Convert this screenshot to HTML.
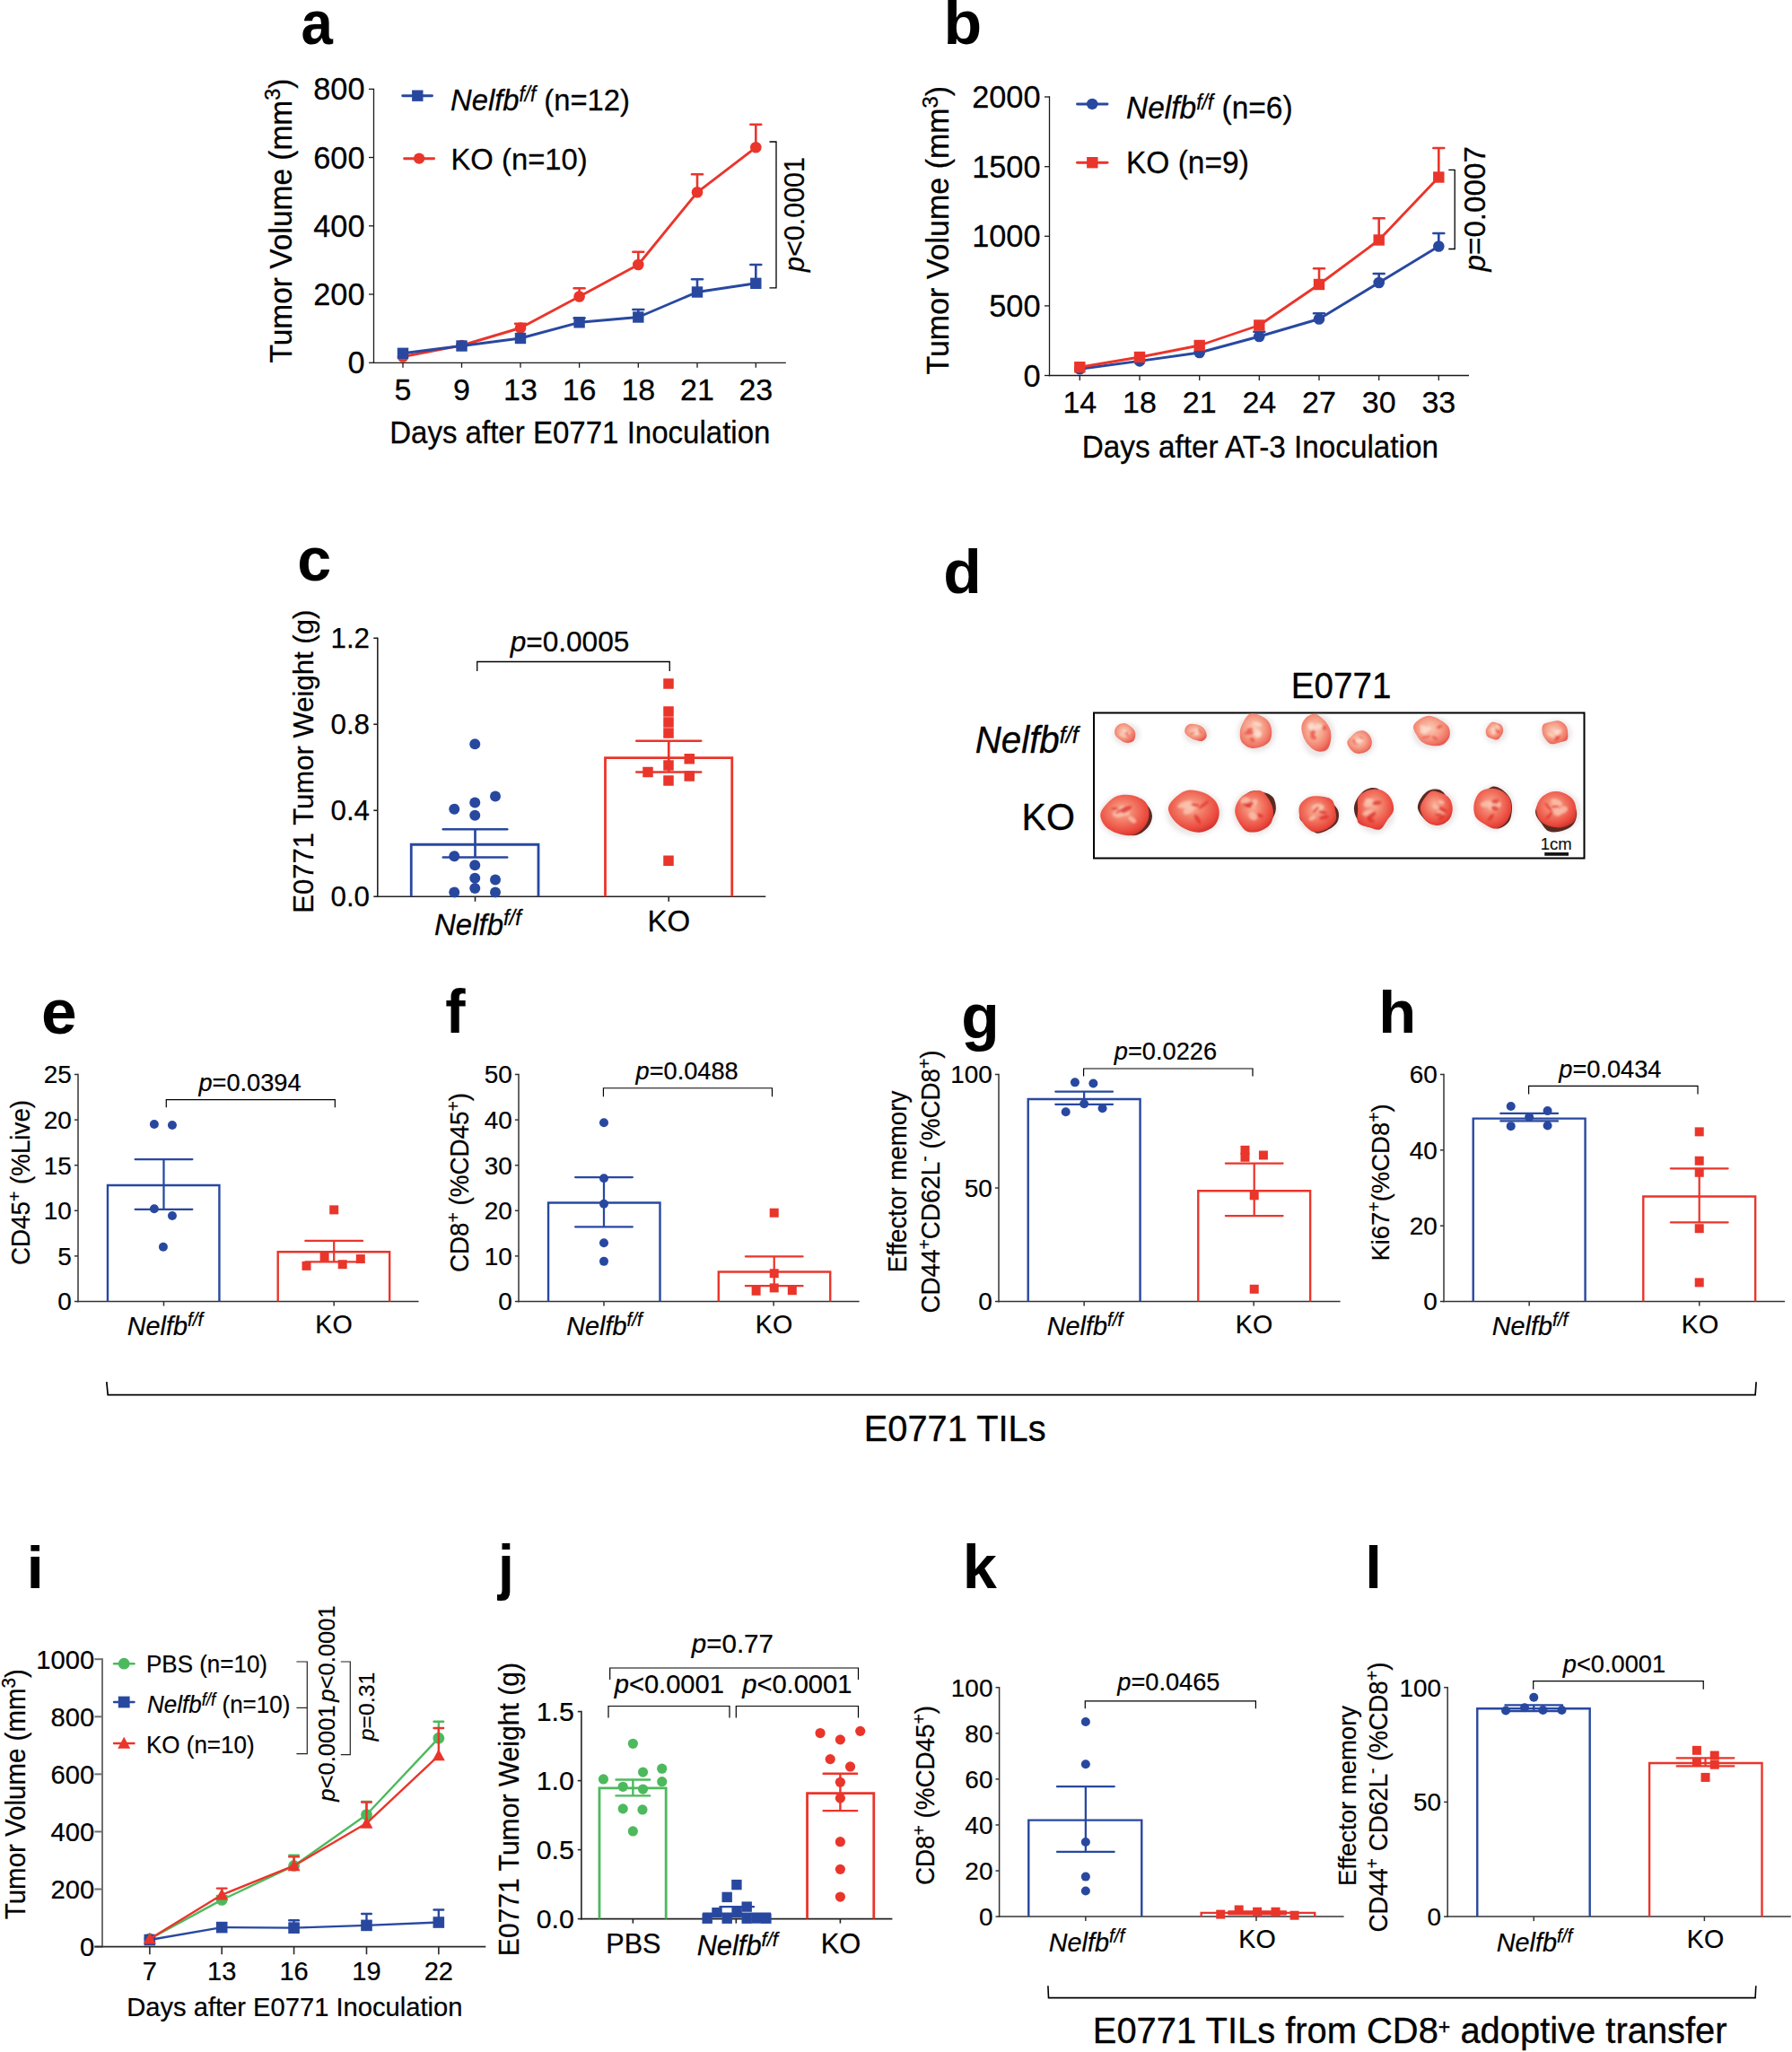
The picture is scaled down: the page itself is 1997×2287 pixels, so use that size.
<!DOCTYPE html>
<html><head><meta charset="utf-8"><title>Figure</title>
<style>html,body{margin:0;padding:0;background:#fff}svg{display:block}text{font-family:'Liberation Sans', sans-serif;white-space:pre}</style>
</head><body>
<svg width="1997" height="2287" viewBox="0 0 1997 2287">
<defs>
<radialGradient id="tg1" cx="45%" cy="42%" r="60%"><stop offset="0" stop-color="#FBCDB9"/><stop offset="0.5" stop-color="#F6A18A"/><stop offset="0.85" stop-color="#F07565"/><stop offset="1" stop-color="#E85A50"/></radialGradient>
<radialGradient id="tg2" cx="45%" cy="40%" r="62%"><stop offset="0" stop-color="#F9B29A"/><stop offset="0.45" stop-color="#F27662"/><stop offset="0.85" stop-color="#EA463B"/><stop offset="1" stop-color="#D0352F"/></radialGradient>
<filter id="blur1" x="-20%" y="-20%" width="140%" height="140%"><feGaussianBlur stdDeviation="1.1"/></filter>
<filter id="blur3" x="-30%" y="-30%" width="160%" height="160%"><feGaussianBlur stdDeviation="2.5"/></filter>
</defs>
<rect x="0" y="0" width="1997" height="2287" fill="#fff"/>
<text transform="matrix(0.6358 0 0 0.6936 335.54 49.22)" font-size="100" fill="#000" font-weight="bold">a</text>
<line x1="416.5" y1="98.65" x2="416.5" y2="404.95" stroke="#1a1a1a" stroke-width="1.3" stroke-linecap="butt"/>
<line x1="411" y1="99.3" x2="416.5" y2="99.3" stroke="#1a1a1a" stroke-width="1.3" stroke-linecap="butt"/>
<text transform="translate(406.5 111.48) scale(1.0000 1)" font-size="34.3" text-anchor="end" fill="#000" stroke="#000" stroke-width="0.27" stroke-linejoin="round"><tspan>800</tspan></text>
<line x1="411" y1="175.5" x2="416.5" y2="175.5" stroke="#1a1a1a" stroke-width="1.3" stroke-linecap="butt"/>
<text transform="translate(406.5 187.68) scale(1.0000 1)" font-size="34.3" text-anchor="end" fill="#000" stroke="#000" stroke-width="0.27" stroke-linejoin="round"><tspan>600</tspan></text>
<line x1="411" y1="251.8" x2="416.5" y2="251.8" stroke="#1a1a1a" stroke-width="1.3" stroke-linecap="butt"/>
<text transform="translate(406.5 263.98) scale(1.0000 1)" font-size="34.3" text-anchor="end" fill="#000" stroke="#000" stroke-width="0.27" stroke-linejoin="round"><tspan>400</tspan></text>
<line x1="411" y1="328" x2="416.5" y2="328" stroke="#1a1a1a" stroke-width="1.3" stroke-linecap="butt"/>
<text transform="translate(406.5 340.18) scale(1.0000 1)" font-size="34.3" text-anchor="end" fill="#000" stroke="#000" stroke-width="0.27" stroke-linejoin="round"><tspan>200</tspan></text>
<line x1="411" y1="404.3" x2="416.5" y2="404.3" stroke="#1a1a1a" stroke-width="1.3" stroke-linecap="butt"/>
<text transform="translate(406.5 416.48) scale(1.0000 1)" font-size="34.3" text-anchor="end" fill="#000" stroke="#000" stroke-width="0.27" stroke-linejoin="round"><tspan>0</tspan></text>
<line x1="415.75" y1="404.3" x2="875.8" y2="404.3" stroke="#1a1a1a" stroke-width="1.3" stroke-linecap="butt"/>
<line x1="449" y1="404.3" x2="449" y2="409.8" stroke="#1a1a1a" stroke-width="1.3" stroke-linecap="butt"/>
<line x1="514.5" y1="404.3" x2="514.5" y2="409.8" stroke="#1a1a1a" stroke-width="1.3" stroke-linecap="butt"/>
<line x1="580" y1="404.3" x2="580" y2="409.8" stroke="#1a1a1a" stroke-width="1.3" stroke-linecap="butt"/>
<line x1="645.6" y1="404.3" x2="645.6" y2="409.8" stroke="#1a1a1a" stroke-width="1.3" stroke-linecap="butt"/>
<line x1="711.3" y1="404.3" x2="711.3" y2="409.8" stroke="#1a1a1a" stroke-width="1.3" stroke-linecap="butt"/>
<line x1="777" y1="404.3" x2="777" y2="409.8" stroke="#1a1a1a" stroke-width="1.3" stroke-linecap="butt"/>
<line x1="842.3" y1="404.3" x2="842.3" y2="409.8" stroke="#1a1a1a" stroke-width="1.3" stroke-linecap="butt"/>
<text transform="translate(449 445.5) scale(1.0000 1)" font-size="34" text-anchor="middle" fill="#000" stroke="#000" stroke-width="0.27" stroke-linejoin="round"><tspan>5</tspan></text>
<text transform="translate(514.5 445.5) scale(1.0000 1)" font-size="34" text-anchor="middle" fill="#000" stroke="#000" stroke-width="0.27" stroke-linejoin="round"><tspan>9</tspan></text>
<text transform="translate(580 445.5) scale(1.0000 1)" font-size="34" text-anchor="middle" fill="#000" stroke="#000" stroke-width="0.27" stroke-linejoin="round"><tspan>13</tspan></text>
<text transform="translate(645.6 445.5) scale(1.0000 1)" font-size="34" text-anchor="middle" fill="#000" stroke="#000" stroke-width="0.27" stroke-linejoin="round"><tspan>16</tspan></text>
<text transform="translate(711.3 445.5) scale(1.0000 1)" font-size="34" text-anchor="middle" fill="#000" stroke="#000" stroke-width="0.27" stroke-linejoin="round"><tspan>18</tspan></text>
<text transform="translate(777 445.5) scale(1.0000 1)" font-size="34" text-anchor="middle" fill="#000" stroke="#000" stroke-width="0.27" stroke-linejoin="round"><tspan>21</tspan></text>
<text transform="translate(842.3 445.5) scale(1.0000 1)" font-size="34" text-anchor="middle" fill="#000" stroke="#000" stroke-width="0.27" stroke-linejoin="round"><tspan>23</tspan></text>
<text transform="translate(646.3 493.8) scale(0.9662 1)" font-size="34.21" text-anchor="middle" fill="#000" stroke="#000" stroke-width="0.27" stroke-linejoin="round"><tspan>Days after E0771 Inoculation</tspan></text>
<text transform="translate(324.5 246) rotate(-90) scale(0.9662 1)" font-size="34.67" text-anchor="middle" fill="#000" stroke="#000" stroke-width="0.28" stroke-linejoin="round"><tspan>Tumor Volume (mm</tspan><tspan font-size="24.27" dy="-12.06">3</tspan><tspan dy="12.06">)</tspan></text>
<line x1="448.7" y1="106.7" x2="481.5" y2="106.7" stroke="#2848A0" stroke-width="2.9" stroke-linecap="round"/>
<rect x="459.1" y="100.5" width="12.4" height="12.4" fill="#2848A0"/>
<text transform="translate(502 122.5) scale(0.9662 1)" font-size="33.95" text-anchor="start" fill="#000" stroke="#000" stroke-width="0.27" stroke-linejoin="round"><tspan font-style="italic">Nelfb</tspan><tspan font-style="italic" font-size="23.08" dy="-9.84">f/f</tspan><tspan dy="9.84"> (n=12)</tspan></text>
<line x1="450.6" y1="176.7" x2="483.6" y2="176.7" stroke="#EA352B" stroke-width="2.9" stroke-linecap="round"/>
<circle cx="467.1" cy="176.6" r="6.2" fill="#EA352B"/>
<text transform="translate(502.5 188.8) scale(0.9662 1)" font-size="33.95" text-anchor="start" fill="#000" stroke="#000" stroke-width="0.27" stroke-linejoin="round"><tspan>KO (n=10)</tspan></text>
<line x1="580" y1="360.8" x2="580" y2="365.5" stroke="#EA352B" stroke-width="2.6" stroke-linecap="butt"/>
<line x1="574.05" y1="360.8" x2="585.95" y2="360.8" stroke="#EA352B" stroke-width="2.6" stroke-linecap="round"/>
<line x1="645.6" y1="321.3" x2="645.6" y2="330.5" stroke="#EA352B" stroke-width="2.6" stroke-linecap="butt"/>
<line x1="639.65" y1="321.3" x2="651.55" y2="321.3" stroke="#EA352B" stroke-width="2.6" stroke-linecap="round"/>
<line x1="711.3" y1="280.7" x2="711.3" y2="295" stroke="#EA352B" stroke-width="2.6" stroke-linecap="butt"/>
<line x1="705.35" y1="280.7" x2="717.25" y2="280.7" stroke="#EA352B" stroke-width="2.6" stroke-linecap="round"/>
<line x1="777" y1="194.3" x2="777" y2="214.3" stroke="#EA352B" stroke-width="2.6" stroke-linecap="butt"/>
<line x1="771.05" y1="194.3" x2="782.95" y2="194.3" stroke="#EA352B" stroke-width="2.6" stroke-linecap="round"/>
<line x1="842.3" y1="138.8" x2="842.3" y2="164.3" stroke="#EA352B" stroke-width="2.6" stroke-linecap="butt"/>
<line x1="836.35" y1="138.8" x2="848.25" y2="138.8" stroke="#EA352B" stroke-width="2.6" stroke-linecap="round"/>
<polyline points="449,397.5 514.5,385 580,365.5 645.6,330.5 711.3,295 777,214.3 842.3,164.3" fill="none" stroke="#EA352B" stroke-width="2.9" stroke-linejoin="round" stroke-linecap="butt"/>
<circle cx="449" cy="397.5" r="6.3" fill="#EA352B"/>
<circle cx="514.5" cy="385" r="6.3" fill="#EA352B"/>
<circle cx="580" cy="365.5" r="6.3" fill="#EA352B"/>
<circle cx="645.6" cy="330.5" r="6.3" fill="#EA352B"/>
<circle cx="711.3" cy="295" r="6.3" fill="#EA352B"/>
<circle cx="777" cy="214.3" r="6.3" fill="#EA352B"/>
<circle cx="842.3" cy="164.3" r="6.3" fill="#EA352B"/>
<line x1="645.6" y1="354.5" x2="645.6" y2="359.3" stroke="#2848A0" stroke-width="2.6" stroke-linecap="butt"/>
<line x1="639.65" y1="354.5" x2="651.55" y2="354.5" stroke="#2848A0" stroke-width="2.6" stroke-linecap="round"/>
<line x1="711.3" y1="345" x2="711.3" y2="353.5" stroke="#2848A0" stroke-width="2.6" stroke-linecap="butt"/>
<line x1="705.35" y1="345" x2="717.25" y2="345" stroke="#2848A0" stroke-width="2.6" stroke-linecap="round"/>
<line x1="777" y1="311.3" x2="777" y2="325.5" stroke="#2848A0" stroke-width="2.6" stroke-linecap="butt"/>
<line x1="771.05" y1="311.3" x2="782.95" y2="311.3" stroke="#2848A0" stroke-width="2.6" stroke-linecap="round"/>
<line x1="842.3" y1="295" x2="842.3" y2="315.8" stroke="#2848A0" stroke-width="2.6" stroke-linecap="butt"/>
<line x1="836.35" y1="295" x2="848.25" y2="295" stroke="#2848A0" stroke-width="2.6" stroke-linecap="round"/>
<polyline points="449,393.8 514.5,385.5 580,377 645.6,359.3 711.3,353.5 777,325.5 842.3,315.8" fill="none" stroke="#2848A0" stroke-width="2.9" stroke-linejoin="round" stroke-linecap="butt"/>
<rect x="442.8" y="387.6" width="12.4" height="12.4" fill="#2848A0"/>
<rect x="508.3" y="379.3" width="12.4" height="12.4" fill="#2848A0"/>
<rect x="573.8" y="370.8" width="12.4" height="12.4" fill="#2848A0"/>
<rect x="639.4" y="353.1" width="12.4" height="12.4" fill="#2848A0"/>
<rect x="705.1" y="347.3" width="12.4" height="12.4" fill="#2848A0"/>
<rect x="770.8" y="319.3" width="12.4" height="12.4" fill="#2848A0"/>
<rect x="836.1" y="309.6" width="12.4" height="12.4" fill="#2848A0"/>
<polyline points="857.5,158 865,158 865,320.8 857.5,320.8" fill="none" stroke="#000" stroke-width="1.3" stroke-linejoin="miter" stroke-linecap="butt"/>
<text transform="translate(896.3 239) rotate(-90) scale(1.0000 1)" font-size="30.5" text-anchor="middle" fill="#000" stroke="#000" stroke-width="0.24" stroke-linejoin="round"><tspan font-style="italic">p</tspan><tspan>&lt;0.0001</tspan></text>
<text transform="matrix(0.6985 0 0 0.6795 1051.5 49.34)" font-size="100" fill="#000" font-weight="bold">b</text>
<line x1="1169.5" y1="107.35" x2="1169.5" y2="419.15" stroke="#1a1a1a" stroke-width="1.3" stroke-linecap="butt"/>
<line x1="1164" y1="108" x2="1169.5" y2="108" stroke="#1a1a1a" stroke-width="1.3" stroke-linecap="butt"/>
<text transform="translate(1159.5 120.18) scale(1.0000 1)" font-size="34.3" text-anchor="end" fill="#000" stroke="#000" stroke-width="0.27" stroke-linejoin="round"><tspan>2000</tspan></text>
<line x1="1164" y1="185.7" x2="1169.5" y2="185.7" stroke="#1a1a1a" stroke-width="1.3" stroke-linecap="butt"/>
<text transform="translate(1159.5 197.88) scale(1.0000 1)" font-size="34.3" text-anchor="end" fill="#000" stroke="#000" stroke-width="0.27" stroke-linejoin="round"><tspan>1500</tspan></text>
<line x1="1164" y1="263.3" x2="1169.5" y2="263.3" stroke="#1a1a1a" stroke-width="1.3" stroke-linecap="butt"/>
<text transform="translate(1159.5 275.48) scale(1.0000 1)" font-size="34.3" text-anchor="end" fill="#000" stroke="#000" stroke-width="0.27" stroke-linejoin="round"><tspan>1000</tspan></text>
<line x1="1164" y1="340.9" x2="1169.5" y2="340.9" stroke="#1a1a1a" stroke-width="1.3" stroke-linecap="butt"/>
<text transform="translate(1159.5 353.08) scale(1.0000 1)" font-size="34.3" text-anchor="end" fill="#000" stroke="#000" stroke-width="0.27" stroke-linejoin="round"><tspan>500</tspan></text>
<line x1="1164" y1="418.5" x2="1169.5" y2="418.5" stroke="#1a1a1a" stroke-width="1.3" stroke-linecap="butt"/>
<text transform="translate(1159.5 430.68) scale(1.0000 1)" font-size="34.3" text-anchor="end" fill="#000" stroke="#000" stroke-width="0.27" stroke-linejoin="round"><tspan>0</tspan></text>
<line x1="1168.75" y1="418.5" x2="1637" y2="418.5" stroke="#1a1a1a" stroke-width="1.3" stroke-linecap="butt"/>
<line x1="1203.3" y1="418.5" x2="1203.3" y2="424" stroke="#1a1a1a" stroke-width="1.3" stroke-linecap="butt"/>
<line x1="1270" y1="418.5" x2="1270" y2="424" stroke="#1a1a1a" stroke-width="1.3" stroke-linecap="butt"/>
<line x1="1336.7" y1="418.5" x2="1336.7" y2="424" stroke="#1a1a1a" stroke-width="1.3" stroke-linecap="butt"/>
<line x1="1403.3" y1="418.5" x2="1403.3" y2="424" stroke="#1a1a1a" stroke-width="1.3" stroke-linecap="butt"/>
<line x1="1470" y1="418.5" x2="1470" y2="424" stroke="#1a1a1a" stroke-width="1.3" stroke-linecap="butt"/>
<line x1="1536.7" y1="418.5" x2="1536.7" y2="424" stroke="#1a1a1a" stroke-width="1.3" stroke-linecap="butt"/>
<line x1="1603.3" y1="418.5" x2="1603.3" y2="424" stroke="#1a1a1a" stroke-width="1.3" stroke-linecap="butt"/>
<text transform="translate(1203.3 459.7) scale(1.0000 1)" font-size="34" text-anchor="middle" fill="#000" stroke="#000" stroke-width="0.27" stroke-linejoin="round"><tspan>14</tspan></text>
<text transform="translate(1270 459.7) scale(1.0000 1)" font-size="34" text-anchor="middle" fill="#000" stroke="#000" stroke-width="0.27" stroke-linejoin="round"><tspan>18</tspan></text>
<text transform="translate(1336.7 459.7) scale(1.0000 1)" font-size="34" text-anchor="middle" fill="#000" stroke="#000" stroke-width="0.27" stroke-linejoin="round"><tspan>21</tspan></text>
<text transform="translate(1403.3 459.7) scale(1.0000 1)" font-size="34" text-anchor="middle" fill="#000" stroke="#000" stroke-width="0.27" stroke-linejoin="round"><tspan>24</tspan></text>
<text transform="translate(1470 459.7) scale(1.0000 1)" font-size="34" text-anchor="middle" fill="#000" stroke="#000" stroke-width="0.27" stroke-linejoin="round"><tspan>27</tspan></text>
<text transform="translate(1536.7 459.7) scale(1.0000 1)" font-size="34" text-anchor="middle" fill="#000" stroke="#000" stroke-width="0.27" stroke-linejoin="round"><tspan>30</tspan></text>
<text transform="translate(1603.3 459.7) scale(1.0000 1)" font-size="34" text-anchor="middle" fill="#000" stroke="#000" stroke-width="0.27" stroke-linejoin="round"><tspan>33</tspan></text>
<text transform="translate(1404.4 509.5) scale(0.9662 1)" font-size="34.47" text-anchor="middle" fill="#000" stroke="#000" stroke-width="0.28" stroke-linejoin="round"><tspan>Days after AT-3 Inoculation</tspan></text>
<text transform="translate(1057 256.7) rotate(-90) scale(0.9662 1)" font-size="35.19" text-anchor="middle" fill="#000" stroke="#000" stroke-width="0.28" stroke-linejoin="round"><tspan>Tumor Volume (mm</tspan><tspan font-size="24.63" dy="-12.24">3</tspan><tspan dy="12.24">)</tspan></text>
<line x1="1200.5" y1="116" x2="1234" y2="116" stroke="#2848A0" stroke-width="2.9" stroke-linecap="round"/>
<circle cx="1217.2" cy="115.9" r="6.25" fill="#2848A0"/>
<text transform="translate(1255 131.8) scale(0.9662 1)" font-size="34.67" text-anchor="start" fill="#000" stroke="#000" stroke-width="0.28" stroke-linejoin="round"><tspan font-style="italic">Nelfb</tspan><tspan font-style="italic" font-size="23.58" dy="-10.05">f/f</tspan><tspan dy="10.05"> (n=6)</tspan></text>
<line x1="1200.5" y1="181.2" x2="1234" y2="181.2" stroke="#EA352B" stroke-width="2.9" stroke-linecap="round"/>
<rect x="1211.1" y="175" width="12.4" height="12.4" fill="#EA352B"/>
<text transform="translate(1255 193.4) scale(0.9662 1)" font-size="34.67" text-anchor="start" fill="#000" stroke="#000" stroke-width="0.28" stroke-linejoin="round"><tspan>KO (n=9)</tspan></text>
<line x1="1403.3" y1="369.8" x2="1403.3" y2="375" stroke="#2848A0" stroke-width="2.6" stroke-linecap="butt"/>
<line x1="1397.35" y1="369.8" x2="1409.25" y2="369.8" stroke="#2848A0" stroke-width="2.6" stroke-linecap="round"/>
<line x1="1470" y1="349.3" x2="1470" y2="355.5" stroke="#2848A0" stroke-width="2.6" stroke-linecap="butt"/>
<line x1="1464.05" y1="349.3" x2="1475.95" y2="349.3" stroke="#2848A0" stroke-width="2.6" stroke-linecap="round"/>
<line x1="1536.7" y1="305" x2="1536.7" y2="315" stroke="#2848A0" stroke-width="2.6" stroke-linecap="butt"/>
<line x1="1530.75" y1="305" x2="1542.65" y2="305" stroke="#2848A0" stroke-width="2.6" stroke-linecap="round"/>
<line x1="1603.3" y1="260" x2="1603.3" y2="274.5" stroke="#2848A0" stroke-width="2.6" stroke-linecap="butt"/>
<line x1="1597.35" y1="260" x2="1609.25" y2="260" stroke="#2848A0" stroke-width="2.6" stroke-linecap="round"/>
<polyline points="1203.3,411.2 1270,402.4 1336.7,393 1403.3,375 1470,355.5 1536.7,315 1603.3,274.5" fill="none" stroke="#2848A0" stroke-width="2.9" stroke-linejoin="round" stroke-linecap="butt"/>
<circle cx="1203.3" cy="411.2" r="6.3" fill="#2848A0"/>
<circle cx="1270" cy="402.4" r="6.3" fill="#2848A0"/>
<circle cx="1336.7" cy="393" r="6.3" fill="#2848A0"/>
<circle cx="1403.3" cy="375" r="6.3" fill="#2848A0"/>
<circle cx="1470" cy="355.5" r="6.3" fill="#2848A0"/>
<circle cx="1536.7" cy="315" r="6.3" fill="#2848A0"/>
<circle cx="1603.3" cy="274.5" r="6.3" fill="#2848A0"/>
<line x1="1470" y1="299.3" x2="1470" y2="317" stroke="#EA352B" stroke-width="2.6" stroke-linecap="butt"/>
<line x1="1464.05" y1="299.3" x2="1475.95" y2="299.3" stroke="#EA352B" stroke-width="2.6" stroke-linecap="round"/>
<line x1="1536.7" y1="243.3" x2="1536.7" y2="267.5" stroke="#EA352B" stroke-width="2.6" stroke-linecap="butt"/>
<line x1="1530.75" y1="243.3" x2="1542.65" y2="243.3" stroke="#EA352B" stroke-width="2.6" stroke-linecap="round"/>
<line x1="1603.3" y1="165" x2="1603.3" y2="197.5" stroke="#EA352B" stroke-width="2.6" stroke-linecap="butt"/>
<line x1="1597.35" y1="165" x2="1609.25" y2="165" stroke="#EA352B" stroke-width="2.6" stroke-linecap="round"/>
<polyline points="1203.3,409.2 1270,398 1336.7,385 1403.3,362.5 1470,317 1536.7,267.5 1603.3,197.5" fill="none" stroke="#EA352B" stroke-width="2.9" stroke-linejoin="round" stroke-linecap="butt"/>
<rect x="1197.1" y="403" width="12.4" height="12.4" fill="#EA352B"/>
<rect x="1263.8" y="391.8" width="12.4" height="12.4" fill="#EA352B"/>
<rect x="1330.5" y="378.8" width="12.4" height="12.4" fill="#EA352B"/>
<rect x="1397.1" y="356.3" width="12.4" height="12.4" fill="#EA352B"/>
<rect x="1463.8" y="310.8" width="12.4" height="12.4" fill="#EA352B"/>
<rect x="1530.5" y="261.3" width="12.4" height="12.4" fill="#EA352B"/>
<rect x="1597.1" y="191.3" width="12.4" height="12.4" fill="#EA352B"/>
<polyline points="1614.3,189.3 1621.2,189.3 1621.2,277.5 1614.3,277.5" fill="none" stroke="#000" stroke-width="1.3" stroke-linejoin="miter" stroke-linecap="butt"/>
<text transform="translate(1655 232.8) rotate(-90) scale(1.0000 1)" font-size="33.2" text-anchor="middle" fill="#000" stroke="#000" stroke-width="0.27" stroke-linejoin="round"><tspan font-style="italic">p</tspan><tspan>=0.0007</tspan></text>
<text transform="matrix(0.6827 0 0 0.6936 331.33 647.32)" font-size="100" fill="#000" font-weight="bold">c</text>
<line x1="420.8" y1="710.6" x2="420.8" y2="1000.05" stroke="#222" stroke-width="1.6" stroke-linecap="butt"/>
<line x1="416.3" y1="711.25" x2="420.8" y2="711.25" stroke="#222" stroke-width="1.6" stroke-linecap="butt"/>
<text transform="translate(412 722.36) scale(1.0000 1)" font-size="31.3" text-anchor="end" fill="#000" stroke="#000" stroke-width="0.25" stroke-linejoin="round"><tspan>1.2</tspan></text>
<line x1="416.3" y1="807.25" x2="420.8" y2="807.25" stroke="#222" stroke-width="1.6" stroke-linecap="butt"/>
<text transform="translate(412 818.36) scale(1.0000 1)" font-size="31.3" text-anchor="end" fill="#000" stroke="#000" stroke-width="0.25" stroke-linejoin="round"><tspan>0.8</tspan></text>
<line x1="416.3" y1="903.25" x2="420.8" y2="903.25" stroke="#222" stroke-width="1.6" stroke-linecap="butt"/>
<text transform="translate(412 914.36) scale(1.0000 1)" font-size="31.3" text-anchor="end" fill="#000" stroke="#000" stroke-width="0.25" stroke-linejoin="round"><tspan>0.4</tspan></text>
<line x1="416.3" y1="999.25" x2="420.8" y2="999.25" stroke="#222" stroke-width="1.6" stroke-linecap="butt"/>
<text transform="translate(412 1010.36) scale(1.0000 1)" font-size="31.3" text-anchor="end" fill="#000" stroke="#000" stroke-width="0.25" stroke-linejoin="round"><tspan>0.0</tspan></text>
<line x1="420" y1="999.25" x2="853.25" y2="999.25" stroke="#222" stroke-width="1.6" stroke-linecap="butt"/>
<line x1="529.5" y1="999.25" x2="529.5" y2="1004.75" stroke="#222" stroke-width="1.6" stroke-linecap="butt"/>
<line x1="745.25" y1="999.25" x2="745.25" y2="1004.75" stroke="#222" stroke-width="1.6" stroke-linecap="butt"/>
<polyline points="458.25,999.25 458.25,941.25 600,941.25 600,999.25" fill="none" stroke="#2848A0" stroke-width="2.8" stroke-linejoin="miter" stroke-linecap="butt"/>
<line x1="529.5" y1="924.25" x2="529.5" y2="955.5" stroke="#2848A0" stroke-width="2.7" stroke-linecap="butt"/>
<line x1="493.85" y1="924.25" x2="565.15" y2="924.25" stroke="#2848A0" stroke-width="2.7" stroke-linecap="round"/>
<line x1="493.85" y1="955.5" x2="565.15" y2="955.5" stroke="#2848A0" stroke-width="2.7" stroke-linecap="round"/>
<circle cx="529.25" cy="829.25" r="6" fill="#2848A0"/>
<circle cx="552" cy="887.5" r="6" fill="#2848A0"/>
<circle cx="529.25" cy="894.5" r="6" fill="#2848A0"/>
<circle cx="506.25" cy="901.75" r="6" fill="#2848A0"/>
<circle cx="529.25" cy="908.75" r="6" fill="#2848A0"/>
<circle cx="506.25" cy="954.25" r="6" fill="#2848A0"/>
<circle cx="529.25" cy="964.25" r="6" fill="#2848A0"/>
<circle cx="529.25" cy="978.75" r="6" fill="#2848A0"/>
<circle cx="552" cy="980.5" r="6" fill="#2848A0"/>
<circle cx="529.25" cy="990" r="6" fill="#2848A0"/>
<circle cx="506.25" cy="994.5" r="6" fill="#2848A0"/>
<circle cx="552" cy="994.5" r="6" fill="#2848A0"/>
<polyline points="674.5,999.25 674.5,844.6 815.75,844.6 815.75,999.25" fill="none" stroke="#EA352B" stroke-width="2.8" stroke-linejoin="miter" stroke-linecap="butt"/>
<line x1="745.25" y1="825.75" x2="745.25" y2="860.5" stroke="#EA352B" stroke-width="2.7" stroke-linecap="butt"/>
<line x1="709.35" y1="825.75" x2="781.15" y2="825.75" stroke="#EA352B" stroke-width="2.7" stroke-linecap="round"/>
<line x1="709.35" y1="860.5" x2="781.15" y2="860.5" stroke="#EA352B" stroke-width="2.7" stroke-linecap="round"/>
<rect x="739.25" y="756.25" width="11.5" height="11.5" fill="#EA352B"/>
<rect x="739.25" y="787.25" width="11.5" height="11.5" fill="#EA352B"/>
<rect x="739.25" y="799.25" width="11.5" height="11.5" fill="#EA352B"/>
<rect x="739.25" y="811.25" width="11.5" height="11.5" fill="#EA352B"/>
<rect x="762.5" y="840" width="11.5" height="11.5" fill="#EA352B"/>
<rect x="739.25" y="847.25" width="11.5" height="11.5" fill="#EA352B"/>
<rect x="716.25" y="854.75" width="11.5" height="11.5" fill="#EA352B"/>
<rect x="762.5" y="859.25" width="11.5" height="11.5" fill="#EA352B"/>
<rect x="739.25" y="864.25" width="11.5" height="11.5" fill="#EA352B"/>
<rect x="739.25" y="953.5" width="11.5" height="11.5" fill="#EA352B"/>
<text transform="translate(484 1041.75) scale(0.9662 1)" font-size="34.15" text-anchor="start" fill="#000" stroke="#000" stroke-width="0.27" stroke-linejoin="round"><tspan font-style="italic">Nelfb</tspan><tspan font-style="italic" font-size="24.59" dy="-10.89">f/f</tspan></text>
<text transform="translate(745.4 1037.5) scale(0.9662 1)" font-size="34.15" text-anchor="middle" fill="#000" stroke="#000" stroke-width="0.27" stroke-linejoin="round"><tspan>KO</tspan></text>
<text transform="translate(348.75 848.75) rotate(-90) scale(0.9662 1)" font-size="32.19" text-anchor="middle" fill="#000" stroke="#000" stroke-width="0.26" stroke-linejoin="round"><tspan>E0771 Tumor Weight (g)</tspan></text>
<polyline points="531.75,748 531.75,737.5 746.25,737.5 746.25,748" fill="none" stroke="#000" stroke-width="1.3" stroke-linejoin="miter" stroke-linecap="butt"/>
<text transform="translate(635 726.25) scale(1.0000 1)" font-size="31.6" text-anchor="middle" fill="#000" stroke="#000" stroke-width="0.25" stroke-linejoin="round"><tspan font-style="italic">p</tspan><tspan>=0.0005</tspan></text>
<text transform="matrix(0.6966 0 0 0.6795 1051.14 661.14)" font-size="100" fill="#000" font-weight="bold">d</text>
<text transform="translate(1494.6 778.25) scale(0.9662 1)" font-size="39.95" text-anchor="middle" fill="#000" stroke="#000" stroke-width="0.32" stroke-linejoin="round"><tspan>E0771</tspan></text>
<text transform="translate(1086.7 838.7) scale(0.9662 1)" font-size="41.71" text-anchor="start" fill="#000" stroke="#000" stroke-width="0.33" stroke-linejoin="round"><tspan font-style="italic">Nelfb</tspan><tspan font-style="italic" font-size="26.28" dy="-11.08">f/f</tspan></text>
<text transform="translate(1138.5 925.4) scale(0.9662 1)" font-size="42.54" text-anchor="start" fill="#000" stroke="#000" stroke-width="0.34" stroke-linejoin="round"><tspan>KO</tspan></text>
<rect x="1219" y="794.5" width="546.5" height="162" fill="#fff" stroke="#000" stroke-width="2"/>
<ellipse cx="1255.25" cy="818.5" rx="15" ry="12.5" fill="#b9a6a6" opacity="0.28" filter="url(#blur3)"/>
<path d="M1265.14,820.96C1264.73,822.88 1264.01,825.47 1262.26,826.61C1260.51,827.75 1257.07,828.19 1254.65,827.8C1252.22,827.41 1249.69,825.7 1247.7,824.24C1245.72,822.79 1243.59,820.98 1242.75,819.06C1241.9,817.15 1241.99,814.65 1242.62,812.77C1243.25,810.88 1244.66,808.85 1246.53,807.75C1248.4,806.64 1251.51,805.77 1253.85,806.15C1256.19,806.53 1258.77,808.51 1260.57,810C1262.38,811.5 1263.92,813.3 1264.68,815.13C1265.44,816.96 1265.54,819.05 1265.14,820.96Z" fill="url(#tg1)"/>
<g filter="url(#blur1)"><ellipse cx="1254.34" cy="815.43" rx="3.26" ry="1.21" fill="#FCDDD0" opacity="0.8" transform="rotate(25.07 1254.34 815.43)"/><ellipse cx="1256.86" cy="817.23" rx="2.53" ry="1.52" fill="#FCDDD0" opacity="0.8" transform="rotate(-13.78 1256.86 817.23)"/><ellipse cx="1251.12" cy="819.62" rx="3.99" ry="1.04" fill="#FCDDD0" opacity="0.8" transform="rotate(28.81 1251.12 819.62)"/><ellipse cx="1255.54" cy="816.63" rx="2.41" ry="1" fill="#E8443B" opacity="0.7" transform="rotate(-5.18 1255.54 816.63)"/><ellipse cx="1256.57" cy="819.29" rx="2.12" ry="1.06" fill="#E8443B" opacity="0.7" transform="rotate(57.89 1256.57 819.29)"/><ellipse cx="1260.12" cy="818.83" rx="1.96" ry="0.6" fill="#E8443B" opacity="0.7" transform="rotate(-43.92 1260.12 818.83)"/></g>
<ellipse cx="1333.5" cy="817.75" rx="14.5" ry="11.5" fill="#b9a6a6" opacity="0.28" filter="url(#blur3)"/>
<path d="M1344.37,821.78C1343.68,823.52 1341.67,825.45 1339.65,825.94C1337.63,826.44 1334.52,825.42 1332.27,824.75C1330.01,824.08 1328.02,823.22 1326.1,821.93C1324.18,820.63 1321.56,818.82 1320.73,816.99C1319.89,815.16 1320.28,812.6 1321.11,810.94C1321.94,809.28 1323.77,807.66 1325.71,807.05C1327.65,806.44 1330.43,806.8 1332.75,807.28C1335.07,807.76 1337.79,808.55 1339.63,809.93C1341.46,811.31 1342.98,813.57 1343.77,815.54C1344.56,817.52 1345.05,820.05 1344.37,821.78Z" fill="url(#tg1)"/>
<g filter="url(#blur1)"><ellipse cx="1332.11" cy="817.56" rx="3.77" ry="1.16" fill="#FCDDD0" opacity="0.8" transform="rotate(21.29 1332.11 817.56)"/><ellipse cx="1333.86" cy="816.51" rx="2.35" ry="0.92" fill="#FCDDD0" opacity="0.8" transform="rotate(-9.27 1333.86 816.51)"/><ellipse cx="1334.27" cy="813.57" rx="3" ry="1.19" fill="#FCDDD0" opacity="0.8" transform="rotate(27.71 1334.27 813.57)"/><ellipse cx="1337.84" cy="816.08" rx="3.6" ry="0.57" fill="#E8443B" opacity="0.7" transform="rotate(37.51 1337.84 816.08)"/><ellipse cx="1337" cy="813.94" rx="3.07" ry="0.84" fill="#E8443B" opacity="0.7" transform="rotate(54.62 1337 813.94)"/><ellipse cx="1329.02" cy="817.27" rx="3.39" ry="0.88" fill="#E8443B" opacity="0.7" transform="rotate(-22.9 1329.02 817.27)"/></g>
<ellipse cx="1400.25" cy="816.5" rx="21.5" ry="21.5" fill="#b9a6a6" opacity="0.28" filter="url(#blur3)"/>
<path d="M1417.25,815C1417.41,818.64 1416.8,823.33 1414.76,826.27C1412.71,829.2 1408.55,831.4 1404.97,832.6C1401.39,833.8 1396.84,834.47 1393.26,833.45C1389.68,832.42 1385.38,829.52 1383.49,826.45C1381.6,823.37 1381.59,818.59 1381.9,815C1382.21,811.41 1383.53,808.13 1385.38,804.92C1387.22,801.7 1389.74,796.9 1392.98,795.71C1396.23,794.52 1401.37,796.35 1404.84,797.8C1408.31,799.25 1411.74,801.56 1413.8,804.43C1415.87,807.29 1417.1,811.36 1417.25,815Z" fill="url(#tg1)"/>
<g filter="url(#blur1)"><ellipse cx="1401.53" cy="818.26" rx="3.91" ry="3.8" fill="#FCDDD0" opacity="0.8" transform="rotate(-24.47 1401.53 818.26)"/><ellipse cx="1400.9" cy="806.9" rx="5.44" ry="2.19" fill="#FCDDD0" opacity="0.8" transform="rotate(16.53 1400.9 806.9)"/><ellipse cx="1401.71" cy="817.14" rx="4.59" ry="3.54" fill="#FCDDD0" opacity="0.8" transform="rotate(39.03 1401.71 817.14)"/><ellipse cx="1391.95" cy="816.73" rx="5.58" ry="1.98" fill="#E8443B" opacity="0.7" transform="rotate(-6.7 1391.95 816.73)"/><ellipse cx="1395.54" cy="824.6" rx="3.09" ry="2.01" fill="#E8443B" opacity="0.7" transform="rotate(41.19 1395.54 824.6)"/><ellipse cx="1392.75" cy="813.3" rx="3.72" ry="1.76" fill="#E8443B" opacity="0.7" transform="rotate(-15.96 1392.75 813.3)"/></g>
<ellipse cx="1469" cy="819.5" rx="18.5" ry="24" fill="#b9a6a6" opacity="0.28" filter="url(#blur3)"/>
<path d="M1482.41,813.32C1483.58,817.07 1483.53,821.68 1482.93,825.38C1482.33,829.09 1481.03,833.52 1478.79,835.55C1476.55,837.57 1472.58,838.01 1469.5,837.53C1466.43,837.04 1463.06,835.08 1460.32,832.63C1457.59,830.18 1454.73,826.73 1453.08,822.85C1451.43,818.96 1449.89,813.28 1450.43,809.31C1450.97,805.34 1453.67,801.24 1456.32,799C1458.96,796.77 1463.03,795.27 1466.3,795.91C1469.57,796.56 1473.25,799.97 1475.94,802.87C1478.62,805.77 1481.25,809.57 1482.41,813.32Z" fill="url(#tg1)"/>
<g filter="url(#blur1)"><ellipse cx="1460.96" cy="809.18" rx="3.76" ry="3.62" fill="#FCDDD0" opacity="0.8" transform="rotate(-28.9 1460.96 809.18)"/><ellipse cx="1462.24" cy="811.24" rx="4.58" ry="2.47" fill="#FCDDD0" opacity="0.8" transform="rotate(19.25 1462.24 811.24)"/><ellipse cx="1469.28" cy="809.6" rx="4.08" ry="3.11" fill="#FCDDD0" opacity="0.8" transform="rotate(-6.99 1469.28 809.6)"/><ellipse cx="1475.94" cy="811.3" rx="2.45" ry="2.5" fill="#E8443B" opacity="0.7" transform="rotate(-11.65 1475.94 811.3)"/><ellipse cx="1463.18" cy="816.15" rx="3.28" ry="2.52" fill="#E8443B" opacity="0.7" transform="rotate(-34.76 1463.18 816.15)"/><ellipse cx="1463.47" cy="821.35" rx="3.71" ry="2.52" fill="#E8443B" opacity="0.7" transform="rotate(40.64 1463.47 821.35)"/></g>
<ellipse cx="1516.5" cy="828.5" rx="15.5" ry="14.5" fill="#b9a6a6" opacity="0.28" filter="url(#blur3)"/>
<path d="M1528.82,827C1528.85,829.44 1528.04,832.38 1526.53,834.39C1525.01,836.41 1522.32,838.25 1519.75,839.09C1517.19,839.92 1513.67,840.21 1511.13,839.42C1508.58,838.64 1506.1,836.46 1504.48,834.39C1502.86,832.32 1501.15,829.3 1501.4,827C1501.65,824.7 1504.29,822.5 1505.97,820.61C1507.66,818.72 1509.19,816.67 1511.51,815.67C1513.83,814.66 1517.4,813.9 1519.87,814.58C1522.34,815.25 1524.84,817.67 1526.33,819.74C1527.82,821.81 1528.79,824.56 1528.82,827Z" fill="url(#tg1)"/>
<g filter="url(#blur1)"><ellipse cx="1516.3" cy="825.12" rx="3.66" ry="1.28" fill="#FCDDD0" opacity="0.8" transform="rotate(15.83 1516.3 825.12)"/><ellipse cx="1513.55" cy="826.84" rx="2.65" ry="1.61" fill="#FCDDD0" opacity="0.8" transform="rotate(-18.64 1513.55 826.84)"/><ellipse cx="1513.08" cy="827.98" rx="3.2" ry="2.36" fill="#FCDDD0" opacity="0.8" transform="rotate(6.63 1513.08 827.98)"/><ellipse cx="1511.9" cy="829.19" rx="2.98" ry="0.82" fill="#E8443B" opacity="0.7" transform="rotate(3.22 1511.9 829.19)"/><ellipse cx="1509.15" cy="826.47" rx="3" ry="1.21" fill="#E8443B" opacity="0.7" transform="rotate(55.13 1509.15 826.47)"/><ellipse cx="1516.99" cy="822.48" rx="2.88" ry="0.9" fill="#E8443B" opacity="0.7" transform="rotate(29.67 1516.99 822.48)"/></g>
<ellipse cx="1596" cy="816.5" rx="22.5" ry="18.5" fill="#b9a6a6" opacity="0.28" filter="url(#blur3)"/>
<path d="M1615.45,820.48C1614.62,823.69 1612.12,827.33 1609.04,829.13C1605.97,830.92 1600.94,831.52 1597.03,831.25C1593.11,830.97 1588.61,829.45 1585.56,827.47C1582.52,825.5 1580.49,822.38 1578.74,819.41C1576.99,816.44 1574.53,812.59 1575.05,809.66C1575.58,806.72 1578.92,803.77 1581.88,801.81C1584.85,799.84 1589.07,797.78 1592.86,797.86C1596.66,797.93 1601.13,800.24 1604.66,802.23C1608.19,804.23 1612.24,806.8 1614.04,809.84C1615.84,812.88 1616.28,817.27 1615.45,820.48Z" fill="url(#tg1)"/>
<g filter="url(#blur1)"><ellipse cx="1590.35" cy="813.25" rx="3.83" ry="2.14" fill="#FCDDD0" opacity="0.8" transform="rotate(-34.21 1590.35 813.25)"/><ellipse cx="1586.18" cy="810.63" rx="3.93" ry="2.1" fill="#FCDDD0" opacity="0.8" transform="rotate(19.48 1586.18 810.63)"/><ellipse cx="1586.57" cy="815" rx="3.98" ry="2.87" fill="#FCDDD0" opacity="0.8" transform="rotate(18.96 1586.57 815)"/><ellipse cx="1589.22" cy="821.49" rx="5.15" ry="1.03" fill="#E8443B" opacity="0.7" transform="rotate(-11.02 1589.22 821.49)"/><ellipse cx="1599.01" cy="822.63" rx="3.52" ry="1.2" fill="#E8443B" opacity="0.7" transform="rotate(33.01 1599.01 822.63)"/><ellipse cx="1604.25" cy="810.03" rx="3.27" ry="1.68" fill="#E8443B" opacity="0.7" transform="rotate(-21.96 1604.25 810.03)"/></g>
<ellipse cx="1666.5" cy="816" rx="12.5" ry="12.5" fill="#b9a6a6" opacity="0.28" filter="url(#blur3)"/>
<path d="M1675.15,814.5C1675.07,816.38 1674.1,818.33 1673.03,819.97C1671.95,821.6 1670.41,823.76 1668.68,824.3C1666.96,824.84 1664.56,823.84 1662.67,823.2C1660.79,822.55 1658.5,821.87 1657.35,820.42C1656.2,818.97 1655.64,816.38 1655.77,814.5C1655.9,812.62 1657.02,810.73 1658.13,809.14C1659.23,807.55 1660.71,805.52 1662.41,804.98C1664.1,804.43 1666.46,805.25 1668.3,805.87C1670.15,806.49 1672.34,807.26 1673.48,808.7C1674.62,810.14 1675.22,812.62 1675.15,814.5Z" fill="url(#tg1)"/>
<g filter="url(#blur1)"><ellipse cx="1668.83" cy="809.94" rx="2.82" ry="1.48" fill="#FCDDD0" opacity="0.8" transform="rotate(35.34 1668.83 809.94)"/><ellipse cx="1664.25" cy="816.85" rx="2.02" ry="1.99" fill="#FCDDD0" opacity="0.8" transform="rotate(-6.96 1664.25 816.85)"/><ellipse cx="1662.47" cy="812.27" rx="2.68" ry="1.03" fill="#FCDDD0" opacity="0.8" transform="rotate(-9.03 1662.47 812.27)"/><ellipse cx="1660.61" cy="811.16" rx="1.76" ry="0.74" fill="#E8443B" opacity="0.7" transform="rotate(-27.08 1660.61 811.16)"/><ellipse cx="1668.28" cy="814.45" rx="2.79" ry="1.14" fill="#E8443B" opacity="0.7" transform="rotate(47.43 1668.28 814.45)"/><ellipse cx="1669.98" cy="815.97" rx="2.51" ry="1.13" fill="#E8443B" opacity="0.7" transform="rotate(5.24 1669.98 815.97)"/></g>
<ellipse cx="1734" cy="817.75" rx="17.5" ry="15.5" fill="#b9a6a6" opacity="0.28" filter="url(#blur3)"/>
<path d="M1747.18,816.25C1747.38,818.9 1747.91,822.69 1746.26,824.6C1744.61,826.5 1740.3,826.94 1737.29,827.69C1734.28,828.44 1730.74,829.86 1728.17,829.12C1725.61,828.38 1723.44,825.4 1721.87,823.26C1720.3,821.11 1719.13,818.82 1718.76,816.25C1718.39,813.68 1718.01,809.79 1719.65,807.85C1721.3,805.91 1725.62,805.32 1728.63,804.6C1731.65,803.89 1735.03,802.86 1737.77,803.54C1740.5,804.21 1743.47,806.55 1745.04,808.67C1746.6,810.79 1746.98,813.6 1747.18,816.25Z" fill="url(#tg1)"/>
<g filter="url(#blur1)"><ellipse cx="1728.94" cy="819.45" rx="4.69" ry="1.33" fill="#FCDDD0" opacity="0.8" transform="rotate(27.75 1728.94 819.45)"/><ellipse cx="1734.82" cy="816.82" rx="2.72" ry="2.38" fill="#FCDDD0" opacity="0.8" transform="rotate(-9.74 1734.82 816.82)"/><ellipse cx="1735.93" cy="815.32" rx="4.3" ry="2.25" fill="#FCDDD0" opacity="0.8" transform="rotate(-12.89 1735.93 815.32)"/><ellipse cx="1735.55" cy="823.02" rx="4.26" ry="1.49" fill="#E8443B" opacity="0.7" transform="rotate(-47.86 1735.55 823.02)"/><ellipse cx="1735.11" cy="821.5" rx="2.94" ry="0.82" fill="#E8443B" opacity="0.7" transform="rotate(29.8 1735.11 821.5)"/><ellipse cx="1733.95" cy="822.98" rx="2.82" ry="0.85" fill="#E8443B" opacity="0.7" transform="rotate(9.41 1733.95 822.98)"/></g>
<ellipse cx="1254.75" cy="909.5" rx="29.5" ry="24.5" fill="#b9a6a6" opacity="0.28" filter="url(#blur3)"/>
<path d="M1283.97,909.2C1284.13,913.34 1282.17,918.3 1279.24,921.89C1276.31,925.48 1271.28,929.61 1266.4,930.76C1261.53,931.9 1254.84,930.35 1250.01,928.77C1245.17,927.19 1240.61,924.56 1237.38,921.3C1234.15,918.04 1230.72,913.3 1230.61,909.2C1230.49,905.1 1233.46,899.98 1236.68,896.7C1239.9,893.41 1245.1,890.71 1249.94,889.48C1254.79,888.25 1261.03,888.02 1265.75,889.29C1270.47,890.56 1275.24,893.77 1278.28,897.09C1281.31,900.41 1283.81,905.07 1283.97,909.2Z" fill="#5a2a22"/>
<path d="M1280.49,908C1280.32,912.46 1278.8,917.3 1275.85,921.09C1272.91,924.87 1267.87,929.42 1262.8,930.7C1257.74,931.98 1250.62,930.4 1245.46,928.78C1240.31,927.16 1235.07,924.41 1231.87,920.95C1228.67,917.49 1226.04,912.18 1226.28,908C1226.51,903.82 1230.1,899.38 1233.28,895.88C1236.47,892.39 1240.55,888.59 1245.39,887.03C1250.22,885.47 1257.06,885.32 1262.31,886.53C1267.56,887.75 1273.84,890.73 1276.87,894.31C1279.9,897.89 1280.66,903.54 1280.49,908Z" fill="url(#tg2)"/>
<g filter="url(#blur1)"><ellipse cx="1247.46" cy="906.54" rx="7.54" ry="4.31" fill="#FAC3AE" opacity="0.8" transform="rotate(-10.47 1247.46 906.54)"/><ellipse cx="1253.11" cy="903.6" rx="6.94" ry="4.05" fill="#FAC3AE" opacity="0.8" transform="rotate(39.42 1253.11 903.6)"/><ellipse cx="1261.66" cy="913.51" rx="5.07" ry="2.73" fill="#FAC3AE" opacity="0.8" transform="rotate(35.68 1261.66 913.51)"/><ellipse cx="1255.45" cy="902.23" rx="6.57" ry="2.55" fill="#DC2A25" opacity="0.7" transform="rotate(-32.25 1255.45 902.23)"/><ellipse cx="1249.79" cy="902.82" rx="8.01" ry="1.59" fill="#DC2A25" opacity="0.7" transform="rotate(-28.98 1249.79 902.82)"/><ellipse cx="1242.38" cy="901.32" rx="4.11" ry="1.33" fill="#DC2A25" opacity="0.7" transform="rotate(3.29 1242.38 901.32)"/></g>
<ellipse cx="1331" cy="906" rx="31.5" ry="25" fill="#b9a6a6" opacity="0.28" filter="url(#blur3)"/>
<path d="M1358.57,908.52C1357.99,913 1355.81,918.18 1352.07,921.38C1348.32,924.57 1341.6,927.41 1336.09,927.68C1330.58,927.96 1323.78,925.4 1318.99,923.02C1314.21,920.63 1310.21,917.11 1307.38,913.37C1304.55,909.63 1301.64,904.65 1302,900.57C1302.37,896.48 1305.95,892.19 1309.57,888.88C1313.2,885.56 1318.28,881.52 1323.74,880.67C1329.19,879.82 1337,881.5 1342.3,883.8C1347.61,886.1 1352.87,890.35 1355.58,894.47C1358.29,898.59 1359.16,904.03 1358.57,908.52Z" fill="url(#tg2)"/>
<g filter="url(#blur1)"><ellipse cx="1320.34" cy="896.66" rx="8.63" ry="3.47" fill="#FAC3AE" opacity="0.8" transform="rotate(-17.53 1320.34 896.66)"/><ellipse cx="1324.73" cy="903.03" rx="6.55" ry="3.85" fill="#FAC3AE" opacity="0.8" transform="rotate(-30.21 1324.73 903.03)"/><ellipse cx="1325.39" cy="898.22" rx="8.28" ry="4.13" fill="#FAC3AE" opacity="0.8" transform="rotate(1.12 1325.39 898.22)"/><ellipse cx="1341.38" cy="896.99" rx="7.28" ry="1.69" fill="#DC2A25" opacity="0.7" transform="rotate(-37.5 1341.38 896.99)"/><ellipse cx="1331.63" cy="897.24" rx="4.47" ry="1.73" fill="#DC2A25" opacity="0.7" transform="rotate(11.46 1331.63 897.24)"/><ellipse cx="1334.46" cy="912.87" rx="5.76" ry="2.23" fill="#DC2A25" opacity="0.7" transform="rotate(57.08 1334.46 912.87)"/></g>
<ellipse cx="1398.5" cy="905.25" rx="25" ry="25" fill="#b9a6a6" opacity="0.28" filter="url(#blur3)"/>
<path d="M1421.84,901.44C1421.65,905.68 1419.57,909.99 1417.19,913.74C1414.81,917.48 1411.5,922.49 1407.55,923.89C1403.61,925.29 1397.45,923.91 1393.53,922.13C1389.62,920.35 1386.76,916.65 1384.06,913.2C1381.36,909.76 1377.33,905.35 1377.34,901.44C1377.35,897.52 1381.34,892.95 1384.1,889.7C1386.86,886.44 1390.19,883.12 1393.91,881.91C1397.64,880.71 1402.35,881.39 1406.43,882.45C1410.5,883.51 1415.8,885.11 1418.37,888.28C1420.94,891.44 1422.04,897.19 1421.84,901.44Z" fill="#5a2a22"/>
<path d="M1418.92,903.75C1419.25,908.08 1418.75,913.77 1416.38,917.47C1414.01,921.16 1409.09,924.41 1404.71,925.94C1400.32,927.47 1394.11,928.28 1390.06,926.64C1386.02,925.01 1382.75,919.96 1380.44,916.14C1378.13,912.33 1376.19,907.86 1376.21,903.75C1376.24,899.64 1378.13,894.83 1380.58,891.46C1383.03,888.09 1386.9,885.21 1390.93,883.53C1394.96,881.84 1400.87,880.02 1404.78,881.35C1408.68,882.68 1412,887.77 1414.36,891.5C1416.71,895.24 1418.58,899.42 1418.92,903.75Z" fill="url(#tg2)"/>
<g filter="url(#blur1)"><ellipse cx="1397.22" cy="894.73" rx="4.93" ry="3.22" fill="#FAC3AE" opacity="0.8" transform="rotate(-38.65 1397.22 894.73)"/><ellipse cx="1396.34" cy="909.64" rx="5.4" ry="4.13" fill="#FAC3AE" opacity="0.8" transform="rotate(36.8 1396.34 909.64)"/><ellipse cx="1387.74" cy="892.73" rx="5.42" ry="4.41" fill="#FAC3AE" opacity="0.8" transform="rotate(-3.64 1387.74 892.73)"/><ellipse cx="1404.2" cy="909.1" rx="3.53" ry="1.98" fill="#DC2A25" opacity="0.7" transform="rotate(17.25 1404.2 909.1)"/><ellipse cx="1389.84" cy="897.58" rx="5.63" ry="1.76" fill="#DC2A25" opacity="0.7" transform="rotate(22.88 1389.84 897.58)"/><ellipse cx="1392.49" cy="896.38" rx="4.64" ry="2.41" fill="#DC2A25" opacity="0.7" transform="rotate(-18.13 1392.49 896.38)"/></g>
<ellipse cx="1469.5" cy="907.75" rx="24" ry="22" fill="#b9a6a6" opacity="0.28" filter="url(#blur3)"/>
<path d="M1491.58,904.65C1492.45,908.2 1492.02,913.17 1490.16,916.48C1488.31,919.8 1484.18,922.5 1480.42,924.53C1476.67,926.57 1471.4,929.3 1467.64,928.67C1463.88,928.05 1461.04,923.53 1457.87,920.79C1454.69,918.05 1449.6,915.71 1448.59,912.23C1447.59,908.75 1449.75,903.51 1451.83,899.91C1453.91,896.31 1457.3,892.59 1461.09,890.65C1464.88,888.71 1470.58,887.52 1474.55,888.28C1478.53,889.04 1482.11,892.48 1484.94,895.21C1487.78,897.93 1490.71,901.1 1491.58,904.65Z" fill="#5a2a22"/>
<path d="M1488.01,902.81C1488.71,906.72 1489.97,911.34 1488.39,914.85C1486.82,918.36 1482.48,921.79 1478.56,923.88C1474.64,925.97 1468.97,928.04 1464.88,927.38C1460.8,926.71 1456.81,922.83 1454.05,919.9C1451.3,916.97 1449.29,913.52 1448.36,909.8C1447.43,906.08 1446.81,901.13 1448.49,897.6C1450.16,894.06 1454.56,890.26 1458.43,888.6C1462.3,886.93 1467.4,887.13 1471.69,887.6C1475.99,888.07 1481.48,888.88 1484.2,891.41C1486.92,893.95 1487.31,898.9 1488.01,902.81Z" fill="url(#tg2)"/>
<g filter="url(#blur1)"><ellipse cx="1468.82" cy="899.54" rx="6.78" ry="3.75" fill="#FAC3AE" opacity="0.8" transform="rotate(-2.63 1468.82 899.54)"/><ellipse cx="1470.24" cy="899.85" rx="4.54" ry="2.51" fill="#FAC3AE" opacity="0.8" transform="rotate(15.39 1470.24 899.85)"/><ellipse cx="1462.48" cy="911.65" rx="4.08" ry="2.33" fill="#FAC3AE" opacity="0.8" transform="rotate(-32.89 1462.48 911.65)"/><ellipse cx="1474.3" cy="905.24" rx="4.75" ry="1.55" fill="#DC2A25" opacity="0.7" transform="rotate(16.49 1474.3 905.24)"/><ellipse cx="1466.43" cy="902.31" rx="4.61" ry="1.53" fill="#DC2A25" opacity="0.7" transform="rotate(-46.7 1466.43 902.31)"/><ellipse cx="1475.45" cy="911.05" rx="5.37" ry="2.2" fill="#DC2A25" opacity="0.7" transform="rotate(-12.64 1475.45 911.05)"/></g>
<ellipse cx="1532.25" cy="904" rx="22.5" ry="24.5" fill="#b9a6a6" opacity="0.28" filter="url(#blur3)"/>
<path d="M1547.55,900.74C1547.66,904.65 1545.62,909.13 1543.51,912.75C1541.4,916.37 1538.38,921.09 1534.89,922.43C1531.39,923.78 1526.25,922.32 1522.55,920.81C1518.85,919.29 1514.97,916.7 1512.69,913.36C1510.42,910.01 1508.78,904.87 1508.88,900.74C1508.98,896.61 1511.05,892.08 1513.29,888.6C1515.53,885.12 1518.71,881.51 1522.32,879.88C1525.93,878.25 1531.53,877.26 1534.95,878.82C1538.37,880.39 1540.73,885.62 1542.83,889.27C1544.93,892.92 1547.44,896.83 1547.55,900.74Z" fill="#5a2a22"/>
<path d="M1553.11,902.5C1552.58,906.82 1548.41,910.52 1545.85,914.17C1543.29,917.82 1541.11,923.11 1537.72,924.41C1534.33,925.71 1529.53,923.28 1525.49,921.99C1521.45,920.71 1515.55,919.94 1513.5,916.69C1511.44,913.44 1513.12,907.18 1513.18,902.5C1513.24,897.82 1511.9,892.2 1513.84,888.59C1515.79,884.97 1520.84,882.24 1524.85,880.82C1528.85,879.4 1533.84,878.84 1537.87,880.08C1541.91,881.32 1546.51,884.54 1549.05,888.28C1551.59,892.01 1553.64,898.18 1553.11,902.5Z" fill="url(#tg2)"/>
<g filter="url(#blur1)"><ellipse cx="1524.34" cy="905.86" rx="6.07" ry="3.05" fill="#FAC3AE" opacity="0.8" transform="rotate(-17.87 1524.34 905.86)"/><ellipse cx="1525.38" cy="892.92" rx="4.2" ry="2.64" fill="#FAC3AE" opacity="0.8" transform="rotate(28.31 1525.38 892.92)"/><ellipse cx="1525.3" cy="894.85" rx="6.2" ry="4.22" fill="#FAC3AE" opacity="0.8" transform="rotate(-31.83 1525.3 894.85)"/><ellipse cx="1527.71" cy="914.36" rx="4.17" ry="2.15" fill="#DC2A25" opacity="0.7" transform="rotate(22.98 1527.71 914.36)"/><ellipse cx="1534.19" cy="894.86" rx="5.17" ry="2.39" fill="#DC2A25" opacity="0.7" transform="rotate(-6.25 1534.19 894.86)"/><ellipse cx="1528.16" cy="908.81" rx="5.97" ry="2.56" fill="#DC2A25" opacity="0.7" transform="rotate(-35.81 1528.16 908.81)"/></g>
<ellipse cx="1602.25" cy="902.25" rx="20.5" ry="22" fill="#b9a6a6" opacity="0.28" filter="url(#blur3)"/>
<path d="M1614.5,899.68C1614.48,903.36 1614.29,907.81 1612.48,910.66C1610.68,913.5 1606.88,915.62 1603.67,916.76C1600.45,917.9 1596.3,918.56 1593.21,917.48C1590.11,916.39 1587.34,913.22 1585.11,910.26C1582.88,907.29 1579.96,903.32 1579.82,899.68C1579.68,896.04 1582.07,891.58 1584.25,888.43C1586.42,885.29 1589.53,882.19 1592.88,880.81C1596.24,879.44 1601.1,878.87 1604.4,880.16C1607.69,881.45 1610.97,885.32 1612.65,888.58C1614.34,891.83 1614.53,896 1614.5,899.68Z" fill="#5a2a22"/>
<path d="M1618.75,900.75C1618.84,904.49 1617.76,909.13 1615.76,912.17C1613.75,915.21 1610.05,917.83 1606.72,918.99C1603.39,920.14 1599.04,920.26 1595.75,919.1C1592.45,917.93 1589.13,915.06 1586.95,912C1584.77,908.95 1582.61,904.44 1582.68,900.75C1582.76,897.06 1585.25,893.02 1587.39,889.84C1589.53,886.67 1592.39,882.67 1595.54,881.7C1598.68,880.73 1602.98,882.68 1606.27,884.02C1609.55,885.36 1613.16,886.95 1615.24,889.74C1617.32,892.53 1618.66,897.01 1618.75,900.75Z" fill="url(#tg2)"/>
<g filter="url(#blur1)"><ellipse cx="1606.05" cy="894.07" rx="3.53" ry="2.17" fill="#FAC3AE" opacity="0.8" transform="rotate(20.34 1606.05 894.07)"/><ellipse cx="1605.51" cy="906.47" rx="4.95" ry="3.2" fill="#FAC3AE" opacity="0.8" transform="rotate(14.99 1605.51 906.47)"/><ellipse cx="1600.1" cy="899.53" rx="3.6" ry="2.03" fill="#FAC3AE" opacity="0.8" transform="rotate(29.47 1600.1 899.53)"/><ellipse cx="1606.68" cy="910.82" rx="4.7" ry="1.86" fill="#DC2A25" opacity="0.7" transform="rotate(-40.19 1606.68 910.82)"/><ellipse cx="1607.89" cy="902.75" rx="5.04" ry="2.08" fill="#DC2A25" opacity="0.7" transform="rotate(34.33 1607.89 902.75)"/><ellipse cx="1603.62" cy="907.74" rx="3.86" ry="2.01" fill="#DC2A25" opacity="0.7" transform="rotate(3.01 1603.62 907.74)"/></g>
<ellipse cx="1664.75" cy="900.75" rx="23" ry="25" fill="#b9a6a6" opacity="0.28" filter="url(#blur3)"/>
<path d="M1684.9,903.03C1684.55,907.23 1683.86,912.73 1681.32,916.12C1678.78,919.52 1673.63,922.95 1669.66,923.41C1665.69,923.88 1661.21,921.06 1657.49,918.92C1653.76,916.78 1648.94,914.33 1647.3,910.59C1645.67,906.85 1646.72,900.89 1647.67,896.47C1648.63,892.05 1650.26,887.39 1653.03,884.07C1655.81,880.75 1660.49,876.97 1664.33,876.56C1668.17,876.16 1672.89,879.25 1676.06,881.65C1679.24,884.05 1681.91,887.38 1683.39,890.94C1684.86,894.51 1685.24,898.84 1684.9,903.03Z" fill="#5a2a22"/>
<path d="M1684.03,902.83C1683.48,907.29 1681.57,912.69 1678.65,916.13C1675.73,919.57 1670.58,923.09 1666.51,923.47C1662.43,923.84 1657.94,920.64 1654.21,918.38C1650.49,916.13 1646.04,913.74 1644.13,909.93C1642.22,906.13 1641.88,900.06 1642.74,895.54C1643.59,891.03 1646.15,885.62 1649.26,882.83C1652.38,880.04 1657.51,879.08 1661.42,878.81C1665.34,878.53 1669.34,879.41 1672.76,881.17C1676.18,882.92 1680.07,885.73 1681.95,889.34C1683.83,892.95 1684.58,898.36 1684.03,902.83Z" fill="url(#tg2)"/>
<g filter="url(#blur1)"><ellipse cx="1662.89" cy="898.75" rx="4.56" ry="4.34" fill="#FAC3AE" opacity="0.8" transform="rotate(18.38 1662.89 898.75)"/><ellipse cx="1667.01" cy="896.25" rx="6.09" ry="3.9" fill="#FAC3AE" opacity="0.8" transform="rotate(7.4 1667.01 896.25)"/><ellipse cx="1656.26" cy="896.1" rx="6.47" ry="3.51" fill="#FAC3AE" opacity="0.8" transform="rotate(-9.72 1656.26 896.1)"/><ellipse cx="1666.38" cy="893.29" rx="4.09" ry="2.4" fill="#DC2A25" opacity="0.7" transform="rotate(-3.45 1666.38 893.29)"/><ellipse cx="1661.44" cy="911.06" rx="4.68" ry="1.96" fill="#DC2A25" opacity="0.7" transform="rotate(-50.17 1661.44 911.06)"/><ellipse cx="1665.72" cy="900.81" rx="3.94" ry="2.61" fill="#DC2A25" opacity="0.7" transform="rotate(14.73 1665.72 900.81)"/></g>
<ellipse cx="1736" cy="904" rx="25.5" ry="23.5" fill="#b9a6a6" opacity="0.28" filter="url(#blur3)"/>
<path d="M1757.13,905.66C1757.5,909.76 1756.07,915.3 1753.38,918.69C1750.69,922.07 1745.49,924.67 1740.98,925.99C1736.46,927.31 1730.26,928.16 1726.28,926.61C1722.3,925.06 1719.63,920.19 1717.1,916.7C1714.56,913.21 1711.27,909.47 1711.08,905.66C1710.88,901.85 1713.26,896.92 1715.94,893.85C1718.62,890.77 1722.97,888.69 1727.17,887.19C1731.37,885.7 1737.13,883.74 1741.13,884.89C1745.13,886.04 1748.51,890.63 1751.17,894.09C1753.84,897.55 1756.76,901.56 1757.13,905.66Z" fill="#5a2a22"/>
<path d="M1756.53,902.5C1756.79,906.58 1756.65,912.02 1754.21,915.24C1751.76,918.46 1746.19,920.81 1741.87,921.81C1737.56,922.82 1732.56,922.43 1728.32,921.27C1724.08,920.1 1719.15,917.95 1716.43,914.82C1713.72,911.69 1712.02,906.6 1712.03,902.5C1712.03,898.4 1713.81,893.51 1716.47,890.21C1719.12,886.91 1723.73,883.82 1727.95,882.69C1732.17,881.57 1737.65,882.12 1741.77,883.47C1745.9,884.81 1750.23,887.59 1752.69,890.76C1755.15,893.94 1756.28,898.42 1756.53,902.5Z" fill="url(#tg2)"/>
<g filter="url(#blur1)"><ellipse cx="1735.43" cy="905.14" rx="5.02" ry="3.96" fill="#FAC3AE" opacity="0.8" transform="rotate(31.07 1735.43 905.14)"/><ellipse cx="1742.22" cy="902.6" rx="5.2" ry="3.82" fill="#FAC3AE" opacity="0.8" transform="rotate(-31.05 1742.22 902.6)"/><ellipse cx="1734.74" cy="894.29" rx="6.68" ry="3.29" fill="#FAC3AE" opacity="0.8" transform="rotate(22.54 1734.74 894.29)"/><ellipse cx="1726.68" cy="908.66" rx="6.19" ry="1.43" fill="#DC2A25" opacity="0.7" transform="rotate(-47.53 1726.68 908.66)"/><ellipse cx="1725.28" cy="899.3" rx="5.97" ry="1.38" fill="#DC2A25" opacity="0.7" transform="rotate(52.11 1725.28 899.3)"/><ellipse cx="1733.21" cy="898.9" rx="4.05" ry="1.38" fill="#DC2A25" opacity="0.7" transform="rotate(-1.89 1733.21 898.9)"/></g>
<text transform="translate(1734.3 947) scale(1.0000 1)" font-size="18.5" text-anchor="middle" fill="#111" stroke="#111" stroke-width="0.15" stroke-linejoin="round"><tspan>1cm</tspan></text>
<line x1="1721.25" y1="951.9" x2="1748" y2="951.9" stroke="#111" stroke-width="3.7" stroke-linecap="butt"/>
<text transform="matrix(0.7123 0 0 0.6973 45.92 1151.52)" font-size="100" fill="#000" font-weight="bold">e</text>
<line x1="87" y1="1196.75" x2="87" y2="1451.25" stroke="#333" stroke-width="1.5" stroke-linecap="butt"/>
<line x1="82.9" y1="1197.5" x2="87" y2="1197.5" stroke="#333" stroke-width="1.5" stroke-linecap="butt"/>
<text transform="translate(79.8 1207.4) scale(1.0000 1)" font-size="27.9" text-anchor="end" fill="#000" stroke="#000" stroke-width="0.22" stroke-linejoin="round"><tspan>25</tspan></text>
<line x1="82.9" y1="1248.1" x2="87" y2="1248.1" stroke="#333" stroke-width="1.5" stroke-linecap="butt"/>
<text transform="translate(79.8 1258) scale(1.0000 1)" font-size="27.9" text-anchor="end" fill="#000" stroke="#000" stroke-width="0.22" stroke-linejoin="round"><tspan>20</tspan></text>
<line x1="82.9" y1="1298.7" x2="87" y2="1298.7" stroke="#333" stroke-width="1.5" stroke-linecap="butt"/>
<text transform="translate(79.8 1308.6) scale(1.0000 1)" font-size="27.9" text-anchor="end" fill="#000" stroke="#000" stroke-width="0.22" stroke-linejoin="round"><tspan>15</tspan></text>
<line x1="82.9" y1="1349.3" x2="87" y2="1349.3" stroke="#333" stroke-width="1.5" stroke-linecap="butt"/>
<text transform="translate(79.8 1359.2) scale(1.0000 1)" font-size="27.9" text-anchor="end" fill="#000" stroke="#000" stroke-width="0.22" stroke-linejoin="round"><tspan>10</tspan></text>
<line x1="82.9" y1="1399.9" x2="87" y2="1399.9" stroke="#333" stroke-width="1.5" stroke-linecap="butt"/>
<text transform="translate(79.8 1409.8) scale(1.0000 1)" font-size="27.9" text-anchor="end" fill="#000" stroke="#000" stroke-width="0.22" stroke-linejoin="round"><tspan>5</tspan></text>
<line x1="82.9" y1="1450.5" x2="87" y2="1450.5" stroke="#333" stroke-width="1.5" stroke-linecap="butt"/>
<text transform="translate(79.8 1460.4) scale(1.0000 1)" font-size="27.9" text-anchor="end" fill="#000" stroke="#000" stroke-width="0.22" stroke-linejoin="round"><tspan>0</tspan></text>
<line x1="86.25" y1="1450.5" x2="466.5" y2="1450.5" stroke="#333" stroke-width="1.5" stroke-linecap="butt"/>
<line x1="182.48" y1="1450.5" x2="182.48" y2="1455.5" stroke="#333" stroke-width="1.5" stroke-linecap="butt"/>
<line x1="372.21" y1="1450.5" x2="372.21" y2="1455.5" stroke="#333" stroke-width="1.5" stroke-linecap="butt"/>
<polyline points="119.98,1450.5 119.98,1321.03 244.42,1321.03 244.42,1450.5" fill="none" stroke="#2848A0" stroke-width="2.4" stroke-linejoin="miter" stroke-linecap="butt"/>
<line x1="182.48" y1="1292.01" x2="182.48" y2="1347.81" stroke="#2848A0" stroke-width="2.25" stroke-linecap="butt"/>
<line x1="150.6" y1="1292.01" x2="214.35" y2="1292.01" stroke="#2848A0" stroke-width="2.25" stroke-linecap="round"/>
<line x1="150.6" y1="1347.81" x2="214.35" y2="1347.81" stroke="#2848A0" stroke-width="2.25" stroke-linecap="round"/>
<circle cx="171.88" cy="1252.95" r="5" fill="#2848A0"/>
<circle cx="191.96" cy="1254.06" r="5" fill="#2848A0"/>
<circle cx="171.88" cy="1347.25" r="5" fill="#2848A0"/>
<circle cx="191.96" cy="1355.07" r="5" fill="#2848A0"/>
<circle cx="181.92" cy="1389.67" r="5" fill="#2848A0"/>
<polyline points="309.71,1450.5 309.71,1395.25 434.15,1395.25 434.15,1450.5" fill="none" stroke="#EA352B" stroke-width="2.4" stroke-linejoin="miter" stroke-linecap="butt"/>
<line x1="372.21" y1="1382.97" x2="372.21" y2="1406.41" stroke="#EA352B" stroke-width="2.25" stroke-linecap="butt"/>
<line x1="340.33" y1="1382.97" x2="404.08" y2="1382.97" stroke="#EA352B" stroke-width="2.25" stroke-linecap="round"/>
<line x1="340.33" y1="1406.41" x2="404.08" y2="1406.41" stroke="#EA352B" stroke-width="2.25" stroke-linecap="round"/>
<rect x="367.21" y="1343.37" width="10" height="10" fill="#EA352B"/>
<rect x="336.52" y="1405.87" width="10" height="10" fill="#EA352B"/>
<rect x="356.61" y="1395.83" width="10" height="10" fill="#EA352B"/>
<rect x="376.7" y="1404.2" width="10" height="10" fill="#EA352B"/>
<rect x="396.79" y="1398.06" width="10" height="10" fill="#EA352B"/>
<polyline points="185.27,1234.25 185.27,1225.6 373.33,1225.6 373.33,1234.25" fill="none" stroke="#000" stroke-width="1.2" stroke-linejoin="miter" stroke-linecap="butt"/>
<text transform="translate(278.46 1215.56) scale(1.0000 1)" font-size="27.2" text-anchor="middle" fill="#000" stroke="#000" stroke-width="0.22" stroke-linejoin="round"><tspan font-style="italic">p</tspan><tspan>=0.0394</tspan></text>
<text transform="translate(184 1487.7) scale(0.9662 1)" font-size="29.81" text-anchor="middle" fill="#000" stroke="#000" stroke-width="0.24" stroke-linejoin="round"><tspan font-style="italic">Nelfb</tspan><tspan font-style="italic" font-size="21.46" dy="-9.5">f/f</tspan></text>
<text transform="translate(372 1486.2) scale(0.9662 1)" font-size="29.6" text-anchor="middle" fill="#000" stroke="#000" stroke-width="0.24" stroke-linejoin="round"><tspan>KO</tspan></text>
<text transform="translate(33.2 1318) rotate(-90) scale(0.9662 1)" font-size="28.77" text-anchor="middle" fill="#000" stroke="#000" stroke-width="0.23" stroke-linejoin="round"><tspan>CD45</tspan><tspan font-size="20.14" dy="-10.01">+</tspan><tspan dy="10.01"> (%Live)</tspan></text>
<text transform="matrix(0.6701 0 0 0.6804 496.15 1151)" font-size="100" fill="#000" font-weight="bold">f</text>
<line x1="578" y1="1196.75" x2="578" y2="1451.25" stroke="#333" stroke-width="1.5" stroke-linecap="butt"/>
<line x1="573.9" y1="1197.5" x2="578" y2="1197.5" stroke="#333" stroke-width="1.5" stroke-linecap="butt"/>
<text transform="translate(570.8 1207.4) scale(1.0000 1)" font-size="27.9" text-anchor="end" fill="#000" stroke="#000" stroke-width="0.22" stroke-linejoin="round"><tspan>50</tspan></text>
<line x1="573.9" y1="1248.1" x2="578" y2="1248.1" stroke="#333" stroke-width="1.5" stroke-linecap="butt"/>
<text transform="translate(570.8 1258) scale(1.0000 1)" font-size="27.9" text-anchor="end" fill="#000" stroke="#000" stroke-width="0.22" stroke-linejoin="round"><tspan>40</tspan></text>
<line x1="573.9" y1="1298.7" x2="578" y2="1298.7" stroke="#333" stroke-width="1.5" stroke-linecap="butt"/>
<text transform="translate(570.8 1308.6) scale(1.0000 1)" font-size="27.9" text-anchor="end" fill="#000" stroke="#000" stroke-width="0.22" stroke-linejoin="round"><tspan>30</tspan></text>
<line x1="573.9" y1="1349.3" x2="578" y2="1349.3" stroke="#333" stroke-width="1.5" stroke-linecap="butt"/>
<text transform="translate(570.8 1359.2) scale(1.0000 1)" font-size="27.9" text-anchor="end" fill="#000" stroke="#000" stroke-width="0.22" stroke-linejoin="round"><tspan>20</tspan></text>
<line x1="573.9" y1="1399.9" x2="578" y2="1399.9" stroke="#333" stroke-width="1.5" stroke-linecap="butt"/>
<text transform="translate(570.8 1409.8) scale(1.0000 1)" font-size="27.9" text-anchor="end" fill="#000" stroke="#000" stroke-width="0.22" stroke-linejoin="round"><tspan>10</tspan></text>
<line x1="573.9" y1="1450.5" x2="578" y2="1450.5" stroke="#333" stroke-width="1.5" stroke-linecap="butt"/>
<text transform="translate(570.8 1460.4) scale(1.0000 1)" font-size="27.9" text-anchor="end" fill="#000" stroke="#000" stroke-width="0.22" stroke-linejoin="round"><tspan>0</tspan></text>
<line x1="577.25" y1="1450.5" x2="957.6" y2="1450.5" stroke="#333" stroke-width="1.5" stroke-linecap="butt"/>
<line x1="672.99" y1="1450.5" x2="672.99" y2="1455.5" stroke="#333" stroke-width="1.5" stroke-linecap="butt"/>
<line x1="862.17" y1="1450.5" x2="862.17" y2="1455.5" stroke="#333" stroke-width="1.5" stroke-linecap="butt"/>
<polyline points="611.05,1450.5 611.05,1340.56 735.49,1340.56 735.49,1450.5" fill="none" stroke="#2848A0" stroke-width="2.4" stroke-linejoin="miter" stroke-linecap="butt"/>
<line x1="672.99" y1="1312.1" x2="672.99" y2="1367.34" stroke="#2848A0" stroke-width="2.25" stroke-linecap="butt"/>
<line x1="641.12" y1="1312.1" x2="704.87" y2="1312.1" stroke="#2848A0" stroke-width="2.25" stroke-linecap="round"/>
<line x1="641.12" y1="1367.34" x2="704.87" y2="1367.34" stroke="#2848A0" stroke-width="2.25" stroke-linecap="round"/>
<circle cx="672.99" cy="1251.27" r="5" fill="#2848A0"/>
<circle cx="672.99" cy="1313.21" r="5" fill="#2848A0"/>
<circle cx="672.99" cy="1341.67" r="5" fill="#2848A0"/>
<circle cx="672.99" cy="1385.2" r="5" fill="#2848A0"/>
<circle cx="672.99" cy="1405.85" r="5" fill="#2848A0"/>
<polyline points="800.78,1450.5 800.78,1417.57 925.22,1417.57 925.22,1450.5" fill="none" stroke="#EA352B" stroke-width="2.4" stroke-linejoin="miter" stroke-linecap="butt"/>
<line x1="862.72" y1="1400.27" x2="862.72" y2="1433.19" stroke="#EA352B" stroke-width="2.25" stroke-linecap="butt"/>
<line x1="830.85" y1="1400.27" x2="894.6" y2="1400.27" stroke="#EA352B" stroke-width="2.25" stroke-linecap="round"/>
<line x1="830.85" y1="1433.19" x2="894.6" y2="1433.19" stroke="#EA352B" stroke-width="2.25" stroke-linecap="round"/>
<rect x="857.72" y="1346.72" width="10" height="10" fill="#EA352B"/>
<rect x="857.72" y="1414.24" width="10" height="10" fill="#EA352B"/>
<rect x="857.72" y="1430.42" width="10" height="10" fill="#EA352B"/>
<rect x="837.63" y="1433.77" width="10" height="10" fill="#EA352B"/>
<rect x="877.81" y="1433.21" width="10" height="10" fill="#EA352B"/>
<polyline points="672.43,1222.25 672.43,1212.77 860.49,1212.77 860.49,1222.25" fill="none" stroke="#000" stroke-width="1.2" stroke-linejoin="miter" stroke-linecap="butt"/>
<text transform="translate(765.62 1203) scale(1.0000 1)" font-size="27.2" text-anchor="middle" fill="#000" stroke="#000" stroke-width="0.22" stroke-linejoin="round"><tspan font-style="italic">p</tspan><tspan>=0.0488</tspan></text>
<text transform="translate(673.5 1487.7) scale(0.9662 1)" font-size="29.81" text-anchor="middle" fill="#000" stroke="#000" stroke-width="0.24" stroke-linejoin="round"><tspan font-style="italic">Nelfb</tspan><tspan font-style="italic" font-size="21.46" dy="-9.5">f/f</tspan></text>
<text transform="translate(862.5 1486.2) scale(0.9662 1)" font-size="29.6" text-anchor="middle" fill="#000" stroke="#000" stroke-width="0.24" stroke-linejoin="round"><tspan>KO</tspan></text>
<text transform="translate(522 1318) rotate(-90) scale(0.9662 1)" font-size="28.77" text-anchor="middle" fill="#000" stroke="#000" stroke-width="0.23" stroke-linejoin="round"><tspan>CD8</tspan><tspan font-size="20.14" dy="-10.01">+</tspan><tspan dy="10.01"> (%CD45</tspan><tspan font-size="20.14" dy="-10.01">+</tspan><tspan dy="10.01">)</tspan></text>
<text transform="matrix(0.6959 0 0 0.6969 1071.15 1156.93)" font-size="100" fill="#000" font-weight="bold">g</text>
<line x1="1113" y1="1196.75" x2="1113" y2="1451.25" stroke="#333" stroke-width="1.5" stroke-linecap="butt"/>
<line x1="1108.9" y1="1197.5" x2="1113" y2="1197.5" stroke="#333" stroke-width="1.5" stroke-linecap="butt"/>
<text transform="translate(1105.8 1207.4) scale(1.0000 1)" font-size="27.9" text-anchor="end" fill="#000" stroke="#000" stroke-width="0.22" stroke-linejoin="round"><tspan>100</tspan></text>
<line x1="1108.9" y1="1324" x2="1113" y2="1324" stroke="#333" stroke-width="1.5" stroke-linecap="butt"/>
<text transform="translate(1105.8 1333.9) scale(1.0000 1)" font-size="27.9" text-anchor="end" fill="#000" stroke="#000" stroke-width="0.22" stroke-linejoin="round"><tspan>50</tspan></text>
<line x1="1108.9" y1="1450.5" x2="1113" y2="1450.5" stroke="#333" stroke-width="1.5" stroke-linecap="butt"/>
<text transform="translate(1105.8 1460.4) scale(1.0000 1)" font-size="27.9" text-anchor="end" fill="#000" stroke="#000" stroke-width="0.22" stroke-linejoin="round"><tspan>0</tspan></text>
<line x1="1112.25" y1="1450.5" x2="1493.6" y2="1450.5" stroke="#333" stroke-width="1.5" stroke-linecap="butt"/>
<line x1="1208.14" y1="1450.5" x2="1208.14" y2="1455.5" stroke="#333" stroke-width="1.5" stroke-linecap="butt"/>
<line x1="1397.13" y1="1450.5" x2="1397.13" y2="1455.5" stroke="#333" stroke-width="1.5" stroke-linecap="butt"/>
<polyline points="1145.72,1450.5 1145.72,1225.07 1270.57,1225.07 1270.57,1450.5" fill="none" stroke="#2848A0" stroke-width="2.4" stroke-linejoin="miter" stroke-linecap="butt"/>
<line x1="1208.14" y1="1216.56" x2="1208.14" y2="1230.75" stroke="#2848A0" stroke-width="2.25" stroke-linecap="butt"/>
<line x1="1176.27" y1="1216.56" x2="1240.02" y2="1216.56" stroke="#2848A0" stroke-width="2.25" stroke-linecap="round"/>
<line x1="1176.27" y1="1230.75" x2="1240.02" y2="1230.75" stroke="#2848A0" stroke-width="2.25" stroke-linecap="round"/>
<circle cx="1197.93" cy="1206.34" r="5" fill="#2848A0"/>
<circle cx="1218.36" cy="1207.48" r="5" fill="#2848A0"/>
<circle cx="1187.71" cy="1239.26" r="5" fill="#2848A0"/>
<circle cx="1208.14" cy="1230.18" r="5" fill="#2848A0"/>
<circle cx="1228.57" cy="1235.29" r="5" fill="#2848A0"/>
<polyline points="1335.27,1450.5 1335.27,1327.22 1460.12,1327.22 1460.12,1450.5" fill="none" stroke="#EA352B" stroke-width="2.4" stroke-linejoin="miter" stroke-linecap="butt"/>
<line x1="1397.7" y1="1296.58" x2="1397.7" y2="1355.03" stroke="#EA352B" stroke-width="2.25" stroke-linecap="butt"/>
<line x1="1365.82" y1="1296.58" x2="1429.57" y2="1296.58" stroke="#EA352B" stroke-width="2.25" stroke-linecap="round"/>
<line x1="1365.82" y1="1355.03" x2="1429.57" y2="1355.03" stroke="#EA352B" stroke-width="2.25" stroke-linecap="round"/>
<rect x="1382.48" y="1276.82" width="10" height="10" fill="#EA352B"/>
<rect x="1382.48" y="1284.77" width="10" height="10" fill="#EA352B"/>
<rect x="1402.91" y="1282.5" width="10" height="10" fill="#EA352B"/>
<rect x="1392.7" y="1327.33" width="10" height="10" fill="#EA352B"/>
<rect x="1392.7" y="1431.76" width="10" height="10" fill="#EA352B"/>
<polyline points="1207.58,1199.53 1207.58,1191.02 1395.99,1191.02 1395.99,1199.53" fill="none" stroke="#000" stroke-width="1.2" stroke-linejoin="miter" stroke-linecap="butt"/>
<text transform="translate(1298.95 1181.37) scale(1.0000 1)" font-size="27.2" text-anchor="middle" fill="#000" stroke="#000" stroke-width="0.22" stroke-linejoin="round"><tspan font-style="italic">p</tspan><tspan>=0.0226</tspan></text>
<text transform="translate(1209 1487.7) scale(0.9662 1)" font-size="29.81" text-anchor="middle" fill="#000" stroke="#000" stroke-width="0.24" stroke-linejoin="round"><tspan font-style="italic">Nelfb</tspan><tspan font-style="italic" font-size="21.46" dy="-9.5">f/f</tspan></text>
<text transform="translate(1397.5 1486.2) scale(0.9662 1)" font-size="29.6" text-anchor="middle" fill="#000" stroke="#000" stroke-width="0.24" stroke-linejoin="round"><tspan>KO</tspan></text>
<text transform="translate(1010.2 1317) rotate(-90) scale(0.9662 1)" font-size="28.67" text-anchor="middle" fill="#000" stroke="#000" stroke-width="0.23" stroke-linejoin="round"><tspan>Effector memory</tspan></text>
<text transform="translate(1047 1317) rotate(-90) scale(0.9662 1)" font-size="28.77" text-anchor="middle" fill="#000" stroke="#000" stroke-width="0.23" stroke-linejoin="round"><tspan>CD44</tspan><tspan font-size="20.14" dy="-10.01">+</tspan><tspan dy="10.01">CD62L</tspan><tspan font-size="20.14" dy="-10.01">-</tspan><tspan dy="10.01"> (%CD8</tspan><tspan font-size="20.14" dy="-10.01">+</tspan><tspan dy="10.01">)</tspan></text>
<text transform="matrix(0.6868 0 0 0.6721 1536.3 1151)" font-size="100" fill="#000" font-weight="bold">h</text>
<line x1="1609" y1="1196.75" x2="1609" y2="1451.25" stroke="#333" stroke-width="1.5" stroke-linecap="butt"/>
<line x1="1604.9" y1="1197.5" x2="1609" y2="1197.5" stroke="#333" stroke-width="1.5" stroke-linecap="butt"/>
<text transform="translate(1601.8 1207.4) scale(1.0000 1)" font-size="27.9" text-anchor="end" fill="#000" stroke="#000" stroke-width="0.22" stroke-linejoin="round"><tspan>60</tspan></text>
<line x1="1604.9" y1="1281.8" x2="1609" y2="1281.8" stroke="#333" stroke-width="1.5" stroke-linecap="butt"/>
<text transform="translate(1601.8 1291.7) scale(1.0000 1)" font-size="27.9" text-anchor="end" fill="#000" stroke="#000" stroke-width="0.22" stroke-linejoin="round"><tspan>40</tspan></text>
<line x1="1604.9" y1="1366.2" x2="1609" y2="1366.2" stroke="#333" stroke-width="1.5" stroke-linecap="butt"/>
<text transform="translate(1601.8 1376.1) scale(1.0000 1)" font-size="27.9" text-anchor="end" fill="#000" stroke="#000" stroke-width="0.22" stroke-linejoin="round"><tspan>20</tspan></text>
<line x1="1604.9" y1="1450.5" x2="1609" y2="1450.5" stroke="#333" stroke-width="1.5" stroke-linecap="butt"/>
<text transform="translate(1601.8 1460.4) scale(1.0000 1)" font-size="27.9" text-anchor="end" fill="#000" stroke="#000" stroke-width="0.22" stroke-linejoin="round"><tspan>0</tspan></text>
<line x1="1608.25" y1="1450.5" x2="1989" y2="1450.5" stroke="#333" stroke-width="1.5" stroke-linecap="butt"/>
<line x1="1704.16" y1="1450.5" x2="1704.16" y2="1455.5" stroke="#333" stroke-width="1.5" stroke-linecap="butt"/>
<line x1="1893.71" y1="1450.5" x2="1893.71" y2="1455.5" stroke="#333" stroke-width="1.5" stroke-linecap="butt"/>
<polyline points="1641.73,1450.5 1641.73,1246.64 1766.59,1246.64 1766.59,1450.5" fill="none" stroke="#2848A0" stroke-width="2.4" stroke-linejoin="miter" stroke-linecap="butt"/>
<line x1="1704.16" y1="1240.96" x2="1704.16" y2="1249.47" stroke="#2848A0" stroke-width="2.25" stroke-linecap="butt"/>
<line x1="1672.28" y1="1240.96" x2="1736.03" y2="1240.96" stroke="#2848A0" stroke-width="2.25" stroke-linecap="round"/>
<line x1="1672.28" y1="1249.47" x2="1736.03" y2="1249.47" stroke="#2848A0" stroke-width="2.25" stroke-linecap="round"/>
<circle cx="1683.73" cy="1233.02" r="5" fill="#2848A0"/>
<circle cx="1724.59" cy="1238.12" r="5" fill="#2848A0"/>
<circle cx="1704.16" cy="1244.93" r="5" fill="#2848A0"/>
<circle cx="1683.73" cy="1255.15" r="5" fill="#2848A0"/>
<circle cx="1724.59" cy="1254.58" r="5" fill="#2848A0"/>
<polyline points="1831.28,1450.5 1831.28,1333.47 1956.14,1333.47 1956.14,1450.5" fill="none" stroke="#EA352B" stroke-width="2.4" stroke-linejoin="miter" stroke-linecap="butt"/>
<line x1="1893.71" y1="1302.25" x2="1893.71" y2="1362.41" stroke="#EA352B" stroke-width="2.25" stroke-linecap="butt"/>
<line x1="1861.84" y1="1302.25" x2="1925.59" y2="1302.25" stroke="#EA352B" stroke-width="2.25" stroke-linecap="round"/>
<line x1="1861.84" y1="1362.41" x2="1925.59" y2="1362.41" stroke="#EA352B" stroke-width="2.25" stroke-linecap="round"/>
<rect x="1888.71" y="1256.39" width="10" height="10" fill="#EA352B"/>
<rect x="1888.71" y="1288.74" width="10" height="10" fill="#EA352B"/>
<rect x="1888.71" y="1301.79" width="10" height="10" fill="#EA352B"/>
<rect x="1888.71" y="1364.22" width="10" height="10" fill="#EA352B"/>
<rect x="1888.71" y="1424.38" width="10" height="10" fill="#EA352B"/>
<polyline points="1703.59,1219.4 1703.59,1210.31 1892.01,1210.31 1892.01,1219.4" fill="none" stroke="#000" stroke-width="1.2" stroke-linejoin="miter" stroke-linecap="butt"/>
<text transform="translate(1794.39 1200.67) scale(1.0000 1)" font-size="27.2" text-anchor="middle" fill="#000" stroke="#000" stroke-width="0.22" stroke-linejoin="round"><tspan font-style="italic">p</tspan><tspan>=0.0434</tspan></text>
<text transform="translate(1705 1487.7) scale(0.9662 1)" font-size="29.81" text-anchor="middle" fill="#000" stroke="#000" stroke-width="0.24" stroke-linejoin="round"><tspan font-style="italic">Nelfb</tspan><tspan font-style="italic" font-size="21.46" dy="-9.5">f/f</tspan></text>
<text transform="translate(1894.5 1486.2) scale(0.9662 1)" font-size="29.6" text-anchor="middle" fill="#000" stroke="#000" stroke-width="0.24" stroke-linejoin="round"><tspan>KO</tspan></text>
<text transform="translate(1548 1318) rotate(-90) scale(0.9662 1)" font-size="28.46" text-anchor="middle" fill="#000" stroke="#000" stroke-width="0.23" stroke-linejoin="round"><tspan>Ki67</tspan><tspan font-size="19.92" dy="-9.9">+</tspan><tspan dy="9.9">(%CD8</tspan><tspan font-size="19.92" dy="-9.9">+</tspan><tspan dy="9.9">)</tspan></text>
<polyline points="118.8,1540.2 120.2,1554.7 1956.1,1554.7 1957.1,1540.2" fill="none" stroke="#000" stroke-width="1.7" stroke-linejoin="miter" stroke-linecap="butt"/>
<text transform="translate(1064.2 1606) scale(0.9662 1)" font-size="41.19" text-anchor="middle" fill="#000" stroke="#000" stroke-width="0.33" stroke-linejoin="round"><tspan>E0771 TILs</tspan></text>
<text transform="matrix(0.6997 0 0 0.6748 29.51 1769.8)" font-size="100" fill="#000" font-weight="bold">i</text>
<line x1="247.21" y1="2112.95" x2="247.21" y2="2117.41" stroke="#4DB95D" stroke-width="2.4" stroke-linecap="butt"/>
<line x1="241.91" y1="2112.95" x2="252.51" y2="2112.95" stroke="#4DB95D" stroke-width="2.4" stroke-linecap="round"/>
<line x1="327.57" y1="2067.75" x2="327.57" y2="2079.46" stroke="#4DB95D" stroke-width="2.4" stroke-linecap="butt"/>
<line x1="322.27" y1="2067.75" x2="332.87" y2="2067.75" stroke="#4DB95D" stroke-width="2.4" stroke-linecap="round"/>
<line x1="408.48" y1="2008.04" x2="408.48" y2="2022.54" stroke="#4DB95D" stroke-width="2.4" stroke-linecap="butt"/>
<line x1="403.18" y1="2008.04" x2="413.78" y2="2008.04" stroke="#4DB95D" stroke-width="2.4" stroke-linecap="round"/>
<line x1="488.84" y1="1918.75" x2="488.84" y2="1937.17" stroke="#4DB95D" stroke-width="2.4" stroke-linecap="butt"/>
<line x1="483.54" y1="1918.75" x2="494.14" y2="1918.75" stroke="#4DB95D" stroke-width="2.4" stroke-linecap="round"/>
<polyline points="166.85,2160.94 247.21,2117.41 327.57,2079.46 408.48,2022.54 488.84,1937.17" fill="none" stroke="#4DB95D" stroke-width="2.4" stroke-linejoin="round" stroke-linecap="butt"/>
<circle cx="166.85" cy="2160.94" r="6.4" fill="#4DB95D"/>
<circle cx="247.21" cy="2117.41" r="6.4" fill="#4DB95D"/>
<circle cx="327.57" cy="2079.46" r="6.4" fill="#4DB95D"/>
<circle cx="408.48" cy="2022.54" r="6.4" fill="#4DB95D"/>
<circle cx="488.84" cy="1937.17" r="6.4" fill="#4DB95D"/>
<line x1="327.57" y1="2140.29" x2="327.57" y2="2148.66" stroke="#2848A0" stroke-width="2.4" stroke-linecap="butt"/>
<line x1="322.27" y1="2140.29" x2="332.87" y2="2140.29" stroke="#2848A0" stroke-width="2.4" stroke-linecap="round"/>
<line x1="408.48" y1="2133.04" x2="408.48" y2="2145.87" stroke="#2848A0" stroke-width="2.4" stroke-linecap="butt"/>
<line x1="403.18" y1="2133.04" x2="413.78" y2="2133.04" stroke="#2848A0" stroke-width="2.4" stroke-linecap="round"/>
<line x1="488.84" y1="2128.57" x2="488.84" y2="2142.52" stroke="#2848A0" stroke-width="2.4" stroke-linecap="butt"/>
<line x1="483.54" y1="2128.57" x2="494.14" y2="2128.57" stroke="#2848A0" stroke-width="2.4" stroke-linecap="round"/>
<polyline points="166.85,2162.05 247.21,2148.1 327.57,2148.66 408.48,2145.87 488.84,2142.52" fill="none" stroke="#2848A0" stroke-width="2.4" stroke-linejoin="round" stroke-linecap="butt"/>
<rect x="160.55" y="2155.75" width="12.6" height="12.6" fill="#2848A0"/>
<rect x="240.91" y="2141.8" width="12.6" height="12.6" fill="#2848A0"/>
<rect x="321.27" y="2142.36" width="12.6" height="12.6" fill="#2848A0"/>
<rect x="402.18" y="2139.57" width="12.6" height="12.6" fill="#2848A0"/>
<rect x="482.54" y="2136.22" width="12.6" height="12.6" fill="#2848A0"/>
<line x1="247.21" y1="2104.58" x2="247.21" y2="2111.83" stroke="#EA352B" stroke-width="2.4" stroke-linecap="butt"/>
<line x1="241.91" y1="2104.58" x2="252.51" y2="2104.58" stroke="#EA352B" stroke-width="2.4" stroke-linecap="round"/>
<line x1="327.57" y1="2069.42" x2="327.57" y2="2079.46" stroke="#EA352B" stroke-width="2.4" stroke-linecap="butt"/>
<line x1="322.27" y1="2069.42" x2="332.87" y2="2069.42" stroke="#EA352B" stroke-width="2.4" stroke-linecap="round"/>
<line x1="408.48" y1="2008.59" x2="408.48" y2="2032.03" stroke="#EA352B" stroke-width="2.4" stroke-linecap="butt"/>
<line x1="403.18" y1="2008.59" x2="413.78" y2="2008.59" stroke="#EA352B" stroke-width="2.4" stroke-linecap="round"/>
<line x1="488.84" y1="1926" x2="488.84" y2="1956.7" stroke="#EA352B" stroke-width="2.4" stroke-linecap="butt"/>
<line x1="483.54" y1="1926" x2="494.14" y2="1926" stroke="#EA352B" stroke-width="2.4" stroke-linecap="round"/>
<polyline points="166.85,2160.94 247.21,2111.83 327.57,2079.46 408.48,2032.03 488.84,1956.7" fill="none" stroke="#EA352B" stroke-width="2.4" stroke-linejoin="round" stroke-linecap="butt"/>
<polygon points="166.85,2153.72 159.85,2166.6 173.85,2166.6" fill="#EA352B"/>
<polygon points="247.21,2104.62 240.21,2117.5 254.21,2117.5" fill="#EA352B"/>
<polygon points="327.57,2072.25 320.57,2085.13 334.57,2085.13" fill="#EA352B"/>
<polygon points="408.48,2024.82 401.48,2037.7 415.48,2037.7" fill="#EA352B"/>
<polygon points="488.84,1949.48 481.84,1962.36 495.84,1962.36" fill="#EA352B"/>
<line x1="114" y1="1848.2" x2="114" y2="2170.3" stroke="#707070" stroke-width="2" stroke-linecap="butt"/>
<line x1="105.4" y1="1849.2" x2="114" y2="1849.2" stroke="#707070" stroke-width="2" stroke-linecap="butt"/>
<text transform="translate(105.2 1859.57) scale(1.0000 1)" font-size="29.2" text-anchor="end" fill="#000" stroke="#000" stroke-width="0.23" stroke-linejoin="round"><tspan>1000</tspan></text>
<line x1="105.4" y1="1913.28" x2="114" y2="1913.28" stroke="#707070" stroke-width="2" stroke-linecap="butt"/>
<text transform="translate(105.2 1923.65) scale(1.0000 1)" font-size="29.2" text-anchor="end" fill="#000" stroke="#000" stroke-width="0.23" stroke-linejoin="round"><tspan>800</tspan></text>
<line x1="105.4" y1="1977.36" x2="114" y2="1977.36" stroke="#707070" stroke-width="2" stroke-linecap="butt"/>
<text transform="translate(105.2 1987.73) scale(1.0000 1)" font-size="29.2" text-anchor="end" fill="#000" stroke="#000" stroke-width="0.23" stroke-linejoin="round"><tspan>600</tspan></text>
<line x1="105.4" y1="2041.44" x2="114" y2="2041.44" stroke="#707070" stroke-width="2" stroke-linecap="butt"/>
<text transform="translate(105.2 2051.81) scale(1.0000 1)" font-size="29.2" text-anchor="end" fill="#000" stroke="#000" stroke-width="0.23" stroke-linejoin="round"><tspan>400</tspan></text>
<line x1="105.4" y1="2105.52" x2="114" y2="2105.52" stroke="#707070" stroke-width="2" stroke-linecap="butt"/>
<text transform="translate(105.2 2115.89) scale(1.0000 1)" font-size="29.2" text-anchor="end" fill="#000" stroke="#000" stroke-width="0.23" stroke-linejoin="round"><tspan>200</tspan></text>
<line x1="105.4" y1="2169.6" x2="114" y2="2169.6" stroke="#707070" stroke-width="2" stroke-linecap="butt"/>
<text transform="translate(105.2 2179.97) scale(1.0000 1)" font-size="29.2" text-anchor="end" fill="#000" stroke="#000" stroke-width="0.23" stroke-linejoin="round"><tspan>0</tspan></text>
<line x1="105.3" y1="2169.6" x2="541.3" y2="2169.6" stroke="#2a2a2a" stroke-width="1.6" stroke-linecap="butt"/>
<line x1="166.85" y1="2169.6" x2="166.85" y2="2178.2" stroke="#2a2a2a" stroke-width="1.6" stroke-linecap="butt"/>
<line x1="247.21" y1="2169.6" x2="247.21" y2="2178.2" stroke="#2a2a2a" stroke-width="1.6" stroke-linecap="butt"/>
<line x1="327.57" y1="2169.6" x2="327.57" y2="2178.2" stroke="#2a2a2a" stroke-width="1.6" stroke-linecap="butt"/>
<line x1="408.48" y1="2169.6" x2="408.48" y2="2178.2" stroke="#2a2a2a" stroke-width="1.6" stroke-linecap="butt"/>
<line x1="488.84" y1="2169.6" x2="488.84" y2="2178.2" stroke="#2a2a2a" stroke-width="1.6" stroke-linecap="butt"/>
<text transform="translate(166.85 2207) scale(1.0000 1)" font-size="29" text-anchor="middle" fill="#000" stroke="#000" stroke-width="0.23" stroke-linejoin="round"><tspan>7</tspan></text>
<text transform="translate(247.21 2207) scale(1.0000 1)" font-size="29" text-anchor="middle" fill="#000" stroke="#000" stroke-width="0.23" stroke-linejoin="round"><tspan>13</tspan></text>
<text transform="translate(327.57 2207) scale(1.0000 1)" font-size="29" text-anchor="middle" fill="#000" stroke="#000" stroke-width="0.23" stroke-linejoin="round"><tspan>16</tspan></text>
<text transform="translate(408.48 2207) scale(1.0000 1)" font-size="29" text-anchor="middle" fill="#000" stroke="#000" stroke-width="0.23" stroke-linejoin="round"><tspan>19</tspan></text>
<text transform="translate(488.84 2207) scale(1.0000 1)" font-size="29" text-anchor="middle" fill="#000" stroke="#000" stroke-width="0.23" stroke-linejoin="round"><tspan>22</tspan></text>
<text transform="translate(328.3 2247) scale(0.9662 1)" font-size="30.17" text-anchor="middle" fill="#000" stroke="#000" stroke-width="0.24" stroke-linejoin="round"><tspan>Days after E0771 Inoculation</tspan></text>
<text transform="translate(27.5 1999.7) rotate(-90) scale(0.9662 1)" font-size="30.53" text-anchor="middle" fill="#000" stroke="#000" stroke-width="0.24" stroke-linejoin="round"><tspan>Tumor Volume (mm</tspan><tspan font-size="21.37" dy="-10.62">3</tspan><tspan dy="10.62">)</tspan></text>
<line x1="127" y1="1854.2" x2="149.5" y2="1854.2" stroke="#4DB95D" stroke-width="2.4" stroke-linecap="round"/>
<circle cx="138.2" cy="1854.2" r="6.4" fill="#4DB95D"/>
<text transform="translate(163 1863.6) scale(0.9662 1)" font-size="26.91" text-anchor="start" fill="#000" stroke="#000" stroke-width="0.22" stroke-linejoin="round"><tspan>PBS (n=10)</tspan></text>
<line x1="127" y1="1897" x2="149.5" y2="1897" stroke="#2848A0" stroke-width="2.4" stroke-linecap="round"/>
<rect x="131.8" y="1890.6" width="12.8" height="12.8" fill="#2848A0"/>
<text transform="translate(164 1909.3) scale(0.9662 1)" font-size="26.91" text-anchor="start" fill="#000" stroke="#000" stroke-width="0.22" stroke-linejoin="round"><tspan font-style="italic">Nelfb</tspan><tspan font-style="italic" font-size="19.38" dy="-8.58">f/f</tspan><tspan dy="8.58"> (n=10)</tspan></text>
<line x1="127" y1="1943" x2="149.5" y2="1943" stroke="#EA352B" stroke-width="2.4" stroke-linecap="round"/>
<polygon points="138.2,1935.79 131.2,1948.67 145.2,1948.67" fill="#EA352B"/>
<text transform="translate(163 1953.9) scale(0.9662 1)" font-size="26.91" text-anchor="start" fill="#000" stroke="#000" stroke-width="0.22" stroke-linejoin="round"><tspan>KO (n=10)</tspan></text>
<polyline points="330.4,1852 342.3,1852 342.3,1954.7 330.4,1954.7" fill="none" stroke="#222" stroke-width="1.2" stroke-linejoin="miter" stroke-linecap="butt"/>
<line x1="330.4" y1="1903.4" x2="342.3" y2="1903.4" stroke="#222" stroke-width="1.2" stroke-linecap="butt"/>
<polyline points="379.8,1852 390.3,1852 390.3,1955.7 379.8,1955.7" fill="none" stroke="#222" stroke-width="1.2" stroke-linejoin="miter" stroke-linecap="butt"/>
<text transform="translate(372.8 1843) rotate(-90) scale(1.0000 1)" font-size="25.6" text-anchor="middle" fill="#000" stroke="#000" stroke-width="0.2" stroke-linejoin="round"><tspan font-style="italic">p</tspan><tspan>&lt;0.0001</tspan></text>
<text transform="translate(372.8 1954) rotate(-90) scale(1.0000 1)" font-size="25.6" text-anchor="middle" fill="#000" stroke="#000" stroke-width="0.2" stroke-linejoin="round"><tspan font-style="italic">p</tspan><tspan>&lt;0.0001</tspan></text>
<text transform="translate(417.2 1902) rotate(-90) scale(1.0000 1)" font-size="24.8" text-anchor="middle" fill="#000" stroke="#000" stroke-width="0.2" stroke-linejoin="round"><tspan font-style="italic">p</tspan><tspan>=0.31</tspan></text>
<text transform="matrix(0.6408 0 0 0.6823 555.1 1770.34)" font-size="100" fill="#000" font-weight="bold">j</text>
<line x1="647.9" y1="1906.7" x2="647.9" y2="2139.4" stroke="#222" stroke-width="1.6" stroke-linecap="butt"/>
<line x1="643.8" y1="1907.6" x2="647.9" y2="1907.6" stroke="#222" stroke-width="1.6" stroke-linecap="butt"/>
<text transform="translate(639.9 1918.36) scale(1.0000 1)" font-size="30.3" text-anchor="end" fill="#000" stroke="#000" stroke-width="0.24" stroke-linejoin="round"><tspan>1.5</tspan></text>
<line x1="643.8" y1="1984.6" x2="647.9" y2="1984.6" stroke="#222" stroke-width="1.6" stroke-linecap="butt"/>
<text transform="translate(639.9 1995.36) scale(1.0000 1)" font-size="30.3" text-anchor="end" fill="#000" stroke="#000" stroke-width="0.24" stroke-linejoin="round"><tspan>1.0</tspan></text>
<line x1="643.8" y1="2061.6" x2="647.9" y2="2061.6" stroke="#222" stroke-width="1.6" stroke-linecap="butt"/>
<text transform="translate(639.9 2072.36) scale(1.0000 1)" font-size="30.3" text-anchor="end" fill="#000" stroke="#000" stroke-width="0.24" stroke-linejoin="round"><tspan>0.5</tspan></text>
<line x1="643.8" y1="2138.6" x2="647.9" y2="2138.6" stroke="#222" stroke-width="1.6" stroke-linecap="butt"/>
<text transform="translate(639.9 2149.36) scale(1.0000 1)" font-size="30.3" text-anchor="end" fill="#000" stroke="#000" stroke-width="0.24" stroke-linejoin="round"><tspan>0.0</tspan></text>
<line x1="647.1" y1="2138.6" x2="994.4" y2="2138.6" stroke="#222" stroke-width="1.6" stroke-linecap="butt"/>
<line x1="705.36" y1="2138.6" x2="705.36" y2="2143.6" stroke="#222" stroke-width="1.6" stroke-linecap="butt"/>
<line x1="820.31" y1="2138.6" x2="820.31" y2="2143.6" stroke="#222" stroke-width="1.6" stroke-linecap="butt"/>
<line x1="936.38" y1="2138.6" x2="936.38" y2="2143.6" stroke="#222" stroke-width="1.6" stroke-linecap="butt"/>
<polyline points="667.97,2138.6 667.97,1992.97 742.19,1992.97 742.19,2138.6" fill="none" stroke="#4DB95D" stroke-width="2.8" stroke-linejoin="miter" stroke-linecap="butt"/>
<line x1="705.36" y1="1983.48" x2="705.36" y2="2001.34" stroke="#4DB95D" stroke-width="2.4" stroke-linecap="butt"/>
<line x1="686.56" y1="1983.48" x2="724.16" y2="1983.48" stroke="#4DB95D" stroke-width="2.4" stroke-linecap="round"/>
<line x1="686.56" y1="2001.34" x2="724.16" y2="2001.34" stroke="#4DB95D" stroke-width="2.4" stroke-linecap="round"/>
<circle cx="705.36" cy="1943.3" r="5.6" fill="#4DB95D"/>
<circle cx="737.72" cy="1971.21" r="5.6" fill="#4DB95D"/>
<circle cx="672.43" cy="1982.92" r="5.6" fill="#4DB95D"/>
<circle cx="716.52" cy="1975.11" r="5.6" fill="#4DB95D"/>
<circle cx="737.72" cy="1985.71" r="5.6" fill="#4DB95D"/>
<circle cx="694.2" cy="1991.29" r="5.6" fill="#4DB95D"/>
<circle cx="716.52" cy="1994.08" r="5.6" fill="#4DB95D"/>
<circle cx="694.2" cy="2015.85" r="5.6" fill="#4DB95D"/>
<circle cx="715.96" cy="2016.96" r="5.6" fill="#4DB95D"/>
<circle cx="705.36" cy="2040.96" r="5.6" fill="#4DB95D"/>
<polyline points="784.5,2138.6 784.5,2132.8 857.6,2132.8 857.6,2138.6" fill="none" stroke="#2848A0" stroke-width="2.8" stroke-linejoin="miter" stroke-linecap="butt"/>
<line x1="821.2" y1="2125.1" x2="821.2" y2="2134" stroke="#2848A0" stroke-width="2.4" stroke-linecap="butt"/>
<line x1="802.4" y1="2125.1" x2="840" y2="2125.1" stroke="#2848A0" stroke-width="2.4" stroke-linecap="round"/>
<line x1="802.4" y1="2134" x2="840" y2="2134" stroke="#2848A0" stroke-width="2.4" stroke-linecap="round"/>
<rect x="815.2" y="2094.9" width="11.4" height="11.4" fill="#2848A0"/>
<rect x="804.5" y="2108.7" width="11.4" height="11.4" fill="#2848A0"/>
<rect x="826.5" y="2119.4" width="11.4" height="11.4" fill="#2848A0"/>
<rect x="793.3" y="2126" width="11.4" height="11.4" fill="#2848A0"/>
<rect x="815.4" y="2126" width="11.4" height="11.4" fill="#2848A0"/>
<rect x="837.8" y="2132.3" width="11.4" height="11.4" fill="#2848A0"/>
<rect x="782.5" y="2132.5" width="11.4" height="11.4" fill="#2848A0"/>
<rect x="804.5" y="2132.5" width="11.4" height="11.4" fill="#2848A0"/>
<rect x="826.5" y="2132.5" width="11.4" height="11.4" fill="#2848A0"/>
<rect x="848.2" y="2132.5" width="11.4" height="11.4" fill="#2848A0"/>
<polyline points="899.55,2138.6 899.55,1998.55 973.77,1998.55 973.77,2138.6" fill="none" stroke="#EA352B" stroke-width="2.8" stroke-linejoin="miter" stroke-linecap="butt"/>
<line x1="936.38" y1="1976.79" x2="936.38" y2="2018.08" stroke="#EA352B" stroke-width="2.4" stroke-linecap="butt"/>
<line x1="917.58" y1="1976.79" x2="955.18" y2="1976.79" stroke="#EA352B" stroke-width="2.4" stroke-linecap="round"/>
<line x1="917.58" y1="2018.08" x2="955.18" y2="2018.08" stroke="#EA352B" stroke-width="2.4" stroke-linecap="round"/>
<circle cx="914.06" cy="1931.58" r="5.6" fill="#EA352B"/>
<circle cx="958.71" cy="1929.35" r="5.6" fill="#EA352B"/>
<circle cx="936.38" cy="1938.84" r="5.6" fill="#EA352B"/>
<circle cx="925.22" cy="1960.6" r="5.6" fill="#EA352B"/>
<circle cx="947.54" cy="1968.97" r="5.6" fill="#EA352B"/>
<circle cx="936.38" cy="1986.27" r="5.6" fill="#EA352B"/>
<circle cx="936.38" cy="2004.13" r="5.6" fill="#EA352B"/>
<circle cx="936.38" cy="2052.68" r="5.6" fill="#EA352B"/>
<circle cx="936.38" cy="2083.37" r="5.6" fill="#EA352B"/>
<circle cx="936.38" cy="2114.06" r="5.6" fill="#EA352B"/>
<text transform="translate(705.86 2176.5) scale(0.9662 1)" font-size="31.67" text-anchor="middle" fill="#000" stroke="#000" stroke-width="0.25" stroke-linejoin="round"><tspan>PBS</tspan></text>
<text transform="translate(821.81 2179) scale(0.9662 1)" font-size="31.88" text-anchor="middle" fill="#000" stroke="#000" stroke-width="0.26" stroke-linejoin="round"><tspan font-style="italic">Nelfb</tspan><tspan font-style="italic" font-size="22.95" dy="-10.16">f/f</tspan></text>
<text transform="translate(936.88 2176.5) scale(0.9662 1)" font-size="31.88" text-anchor="middle" fill="#000" stroke="#000" stroke-width="0.26" stroke-linejoin="round"><tspan>KO</tspan></text>
<text transform="translate(578.2 2016.6) rotate(-90) scale(0.9662 1)" font-size="31.15" text-anchor="middle" fill="#000" stroke="#000" stroke-width="0.25" stroke-linejoin="round"><tspan>E0771 Tumor Weight (g)</tspan></text>
<polyline points="679.7,1872 679.7,1859 956.5,1859 956.5,1872" fill="none" stroke="#000" stroke-width="1.2" stroke-linejoin="miter" stroke-linecap="butt"/>
<text transform="translate(816.4 1842.3) scale(1.0000 1)" font-size="29.5" text-anchor="middle" fill="#000" stroke="#000" stroke-width="0.24" stroke-linejoin="round"><tspan font-style="italic">p</tspan><tspan>=0.77</tspan></text>
<polyline points="678,1914.5 678,1901.5 813,1901.5 813,1914.5" fill="none" stroke="#000" stroke-width="1.2" stroke-linejoin="miter" stroke-linecap="butt"/>
<text transform="translate(745.8 1887.3) scale(1.0000 1)" font-size="29.1" text-anchor="middle" fill="#000" stroke="#000" stroke-width="0.23" stroke-linejoin="round"><tspan font-style="italic">p</tspan><tspan>&lt;0.0001</tspan></text>
<polyline points="820.3,1914.5 820.3,1901.5 956.5,1901.5 956.5,1914.5" fill="none" stroke="#000" stroke-width="1.2" stroke-linejoin="miter" stroke-linecap="butt"/>
<text transform="translate(888.3 1887.3) scale(1.0000 1)" font-size="29.1" text-anchor="middle" fill="#000" stroke="#000" stroke-width="0.23" stroke-linejoin="round"><tspan font-style="italic">p</tspan><tspan>&lt;0.0001</tspan></text>
<text transform="matrix(0.6854 0 0 0.6762 1072.81 1770)" font-size="100" fill="#000" font-weight="bold">k</text>
<line x1="1113.6" y1="1879.95" x2="1113.6" y2="2136.85" stroke="#333" stroke-width="1.5" stroke-linecap="butt"/>
<line x1="1109.5" y1="1880.7" x2="1113.6" y2="1880.7" stroke="#333" stroke-width="1.5" stroke-linecap="butt"/>
<text transform="translate(1106.4 1890.6) scale(1.0000 1)" font-size="27.9" text-anchor="end" fill="#000" stroke="#000" stroke-width="0.22" stroke-linejoin="round"><tspan>100</tspan></text>
<line x1="1109.5" y1="1931.78" x2="1113.6" y2="1931.78" stroke="#333" stroke-width="1.5" stroke-linecap="butt"/>
<text transform="translate(1106.4 1941.68) scale(1.0000 1)" font-size="27.9" text-anchor="end" fill="#000" stroke="#000" stroke-width="0.22" stroke-linejoin="round"><tspan>80</tspan></text>
<line x1="1109.5" y1="1982.86" x2="1113.6" y2="1982.86" stroke="#333" stroke-width="1.5" stroke-linecap="butt"/>
<text transform="translate(1106.4 1992.76) scale(1.0000 1)" font-size="27.9" text-anchor="end" fill="#000" stroke="#000" stroke-width="0.22" stroke-linejoin="round"><tspan>60</tspan></text>
<line x1="1109.5" y1="2033.94" x2="1113.6" y2="2033.94" stroke="#333" stroke-width="1.5" stroke-linecap="butt"/>
<text transform="translate(1106.4 2043.84) scale(1.0000 1)" font-size="27.9" text-anchor="end" fill="#000" stroke="#000" stroke-width="0.22" stroke-linejoin="round"><tspan>40</tspan></text>
<line x1="1109.5" y1="2085.02" x2="1113.6" y2="2085.02" stroke="#333" stroke-width="1.5" stroke-linecap="butt"/>
<text transform="translate(1106.4 2094.92) scale(1.0000 1)" font-size="27.9" text-anchor="end" fill="#000" stroke="#000" stroke-width="0.22" stroke-linejoin="round"><tspan>20</tspan></text>
<line x1="1109.5" y1="2136.1" x2="1113.6" y2="2136.1" stroke="#333" stroke-width="1.5" stroke-linecap="butt"/>
<text transform="translate(1106.4 2146) scale(1.0000 1)" font-size="27.9" text-anchor="end" fill="#000" stroke="#000" stroke-width="0.22" stroke-linejoin="round"><tspan>0</tspan></text>
<line x1="1112.85" y1="2136.1" x2="1497.6" y2="2136.1" stroke="#333" stroke-width="1.5" stroke-linecap="butt"/>
<line x1="1209.85" y1="2136.1" x2="1209.85" y2="2141.1" stroke="#333" stroke-width="1.5" stroke-linecap="butt"/>
<line x1="1399.97" y1="2136.1" x2="1399.97" y2="2141.1" stroke="#333" stroke-width="1.5" stroke-linecap="butt"/>
<polyline points="1146.28,2136.1 1146.28,2028.6 1272.27,2028.6 1272.27,2136.1" fill="none" stroke="#2848A0" stroke-width="2.4" stroke-linejoin="miter" stroke-linecap="butt"/>
<line x1="1209.85" y1="1991.14" x2="1209.85" y2="2063.78" stroke="#2848A0" stroke-width="2.25" stroke-linecap="butt"/>
<line x1="1177.97" y1="1991.14" x2="1241.72" y2="1991.14" stroke="#2848A0" stroke-width="2.25" stroke-linecap="round"/>
<line x1="1177.97" y1="2063.78" x2="1241.72" y2="2063.78" stroke="#2848A0" stroke-width="2.25" stroke-linecap="round"/>
<circle cx="1209.85" cy="1919.06" r="5" fill="#2848A0"/>
<circle cx="1209.85" cy="1966.17" r="5" fill="#2848A0"/>
<circle cx="1209.85" cy="2053" r="5" fill="#2848A0"/>
<circle cx="1209.85" cy="2091.59" r="5" fill="#2848A0"/>
<circle cx="1209.85" cy="2107.48" r="5" fill="#2848A0"/>
<polyline points="1338.67,2136.1 1338.67,2131.88 1465.23,2131.88 1465.23,2136.1" fill="none" stroke="#EA352B" stroke-width="2.4" stroke-linejoin="miter" stroke-linecap="butt"/>
<line x1="1401.1" y1="2130.3" x2="1401.1" y2="2133.42" stroke="#EA352B" stroke-width="2.25" stroke-linecap="butt"/>
<line x1="1369.23" y1="2130.3" x2="1432.98" y2="2130.3" stroke="#EA352B" stroke-width="2.25" stroke-linecap="round"/>
<line x1="1369.23" y1="2133.42" x2="1432.98" y2="2133.42" stroke="#EA352B" stroke-width="2.25" stroke-linecap="round"/>
<rect x="1355.24" y="2128.59" width="10" height="10" fill="#EA352B"/>
<rect x="1375.67" y="2123.48" width="10" height="10" fill="#EA352B"/>
<rect x="1396.1" y="2125.75" width="10" height="10" fill="#EA352B"/>
<rect x="1416.53" y="2125.75" width="10" height="10" fill="#EA352B"/>
<rect x="1437.53" y="2129.72" width="10" height="10" fill="#EA352B"/>
<polyline points="1209.28,1904.31 1209.28,1895.8 1399.4,1895.8 1399.4,1904.31" fill="none" stroke="#000" stroke-width="1.2" stroke-linejoin="miter" stroke-linecap="butt"/>
<text transform="translate(1302.35 1884.44) scale(1.0000 1)" font-size="27.2" text-anchor="middle" fill="#000" stroke="#000" stroke-width="0.22" stroke-linejoin="round"><tspan font-style="italic">p</tspan><tspan>=0.0465</tspan></text>
<text transform="translate(1211 2174.5) scale(0.9662 1)" font-size="29.81" text-anchor="middle" fill="#000" stroke="#000" stroke-width="0.24" stroke-linejoin="round"><tspan font-style="italic">Nelfb</tspan><tspan font-style="italic" font-size="21.46" dy="-9.5">f/f</tspan></text>
<text transform="translate(1401 2171.2) scale(0.9662 1)" font-size="29.6" text-anchor="middle" fill="#000" stroke="#000" stroke-width="0.24" stroke-linejoin="round"><tspan>KO</tspan></text>
<text transform="translate(1041.4 2001) rotate(-90) scale(0.9662 1)" font-size="28.77" text-anchor="middle" fill="#000" stroke="#000" stroke-width="0.23" stroke-linejoin="round"><tspan>CD8</tspan><tspan font-size="20.14" dy="-10.01">+</tspan><tspan dy="10.01"> (%CD45</tspan><tspan font-size="20.14" dy="-10.01">+</tspan><tspan dy="10.01">)</tspan></text>
<text transform="matrix(0.6705 0 0 0.6748 1521.22 1769.9)" font-size="100" fill="#000" font-weight="bold">l</text>
<line x1="1613.2" y1="1879.95" x2="1613.2" y2="2136.85" stroke="#333" stroke-width="1.5" stroke-linecap="butt"/>
<line x1="1609.1" y1="1880.7" x2="1613.2" y2="1880.7" stroke="#333" stroke-width="1.5" stroke-linecap="butt"/>
<text transform="translate(1606 1890.6) scale(1.0000 1)" font-size="27.9" text-anchor="end" fill="#000" stroke="#000" stroke-width="0.22" stroke-linejoin="round"><tspan>100</tspan></text>
<line x1="1609.1" y1="2008.4" x2="1613.2" y2="2008.4" stroke="#333" stroke-width="1.5" stroke-linecap="butt"/>
<text transform="translate(1606 2018.3) scale(1.0000 1)" font-size="27.9" text-anchor="end" fill="#000" stroke="#000" stroke-width="0.22" stroke-linejoin="round"><tspan>50</tspan></text>
<line x1="1609.1" y1="2136.1" x2="1613.2" y2="2136.1" stroke="#333" stroke-width="1.5" stroke-linecap="butt"/>
<text transform="translate(1606 2146) scale(1.0000 1)" font-size="27.9" text-anchor="end" fill="#000" stroke="#000" stroke-width="0.22" stroke-linejoin="round"><tspan>0</tspan></text>
<line x1="1612.45" y1="2136.1" x2="1995.8" y2="2136.1" stroke="#333" stroke-width="1.5" stroke-linecap="butt"/>
<line x1="1709.27" y1="2136.1" x2="1709.27" y2="2141.1" stroke="#333" stroke-width="1.5" stroke-linecap="butt"/>
<line x1="1899.39" y1="2136.1" x2="1899.39" y2="2141.1" stroke="#333" stroke-width="1.5" stroke-linecap="butt"/>
<polyline points="1646.27,2136.1 1646.27,1904.31 1771.69,1904.31 1771.69,2136.1" fill="none" stroke="#2848A0" stroke-width="2.4" stroke-linejoin="miter" stroke-linecap="butt"/>
<line x1="1709.27" y1="1900.34" x2="1709.27" y2="1907.15" stroke="#2848A0" stroke-width="2.25" stroke-linecap="butt"/>
<line x1="1677.39" y1="1900.34" x2="1741.14" y2="1900.34" stroke="#2848A0" stroke-width="2.25" stroke-linecap="round"/>
<line x1="1677.39" y1="1907.15" x2="1741.14" y2="1907.15" stroke="#2848A0" stroke-width="2.25" stroke-linecap="round"/>
<circle cx="1709.27" cy="1891.82" r="5" fill="#2848A0"/>
<circle cx="1678.05" cy="1906.58" r="5" fill="#2848A0"/>
<circle cx="1699.05" cy="1903.17" r="5" fill="#2848A0"/>
<circle cx="1719.48" cy="1906.01" r="5" fill="#2848A0"/>
<circle cx="1740.48" cy="1906.01" r="5" fill="#2848A0"/>
<polyline points="1838.09,2136.1 1838.09,1965.03 1963.52,1965.03 1963.52,2136.1" fill="none" stroke="#EA352B" stroke-width="2.4" stroke-linejoin="miter" stroke-linecap="butt"/>
<line x1="1900.52" y1="1959.36" x2="1900.52" y2="1968.44" stroke="#EA352B" stroke-width="2.25" stroke-linecap="butt"/>
<line x1="1868.65" y1="1959.36" x2="1932.4" y2="1959.36" stroke="#EA352B" stroke-width="2.25" stroke-linecap="round"/>
<line x1="1868.65" y1="1968.44" x2="1932.4" y2="1968.44" stroke="#EA352B" stroke-width="2.25" stroke-linecap="round"/>
<rect x="1885.87" y="1945.84" width="10" height="10" fill="#EA352B"/>
<rect x="1905.74" y="1951.52" width="10" height="10" fill="#EA352B"/>
<rect x="1885.87" y="1958.9" width="10" height="10" fill="#EA352B"/>
<rect x="1905.74" y="1961.74" width="10" height="10" fill="#EA352B"/>
<rect x="1895.52" y="1975.92" width="10" height="10" fill="#EA352B"/>
<polyline points="1708.7,1882.74 1708.7,1873.66 1898.25,1873.66 1898.25,1882.74" fill="none" stroke="#000" stroke-width="1.2" stroke-linejoin="miter" stroke-linecap="butt"/>
<text transform="translate(1798.93 1863.73) scale(1.0000 1)" font-size="27.2" text-anchor="middle" fill="#000" stroke="#000" stroke-width="0.22" stroke-linejoin="round"><tspan font-style="italic">p</tspan><tspan>&lt;0.0001</tspan></text>
<text transform="translate(1710 2174.5) scale(0.9662 1)" font-size="29.81" text-anchor="middle" fill="#000" stroke="#000" stroke-width="0.24" stroke-linejoin="round"><tspan font-style="italic">Nelfb</tspan><tspan font-style="italic" font-size="21.46" dy="-9.5">f/f</tspan></text>
<text transform="translate(1900.5 2171.2) scale(0.9662 1)" font-size="29.6" text-anchor="middle" fill="#000" stroke="#000" stroke-width="0.24" stroke-linejoin="round"><tspan>KO</tspan></text>
<text transform="translate(1510.6 2001.5) rotate(-90) scale(0.9662 1)" font-size="28.46" text-anchor="middle" fill="#000" stroke="#000" stroke-width="0.23" stroke-linejoin="round"><tspan>Effector memory</tspan></text>
<text transform="translate(1546.2 2003) rotate(-90) scale(0.9662 1)" font-size="28.77" text-anchor="middle" fill="#000" stroke="#000" stroke-width="0.23" stroke-linejoin="round"><tspan>CD44</tspan><tspan font-size="20.14" dy="-10.01">+</tspan><tspan dy="10.01"> CD62L</tspan><tspan font-size="20.14" dy="-10.01">-</tspan><tspan dy="10.01"> (%CD8</tspan><tspan font-size="20.14" dy="-10.01">+</tspan><tspan dy="10.01">)</tspan></text>
<polyline points="1167.9,2213.3 1168.5,2226.6 1956.1,2226.6 1956.8,2213.3" fill="none" stroke="#000" stroke-width="1.6" stroke-linejoin="miter" stroke-linecap="butt"/>
<text transform="translate(1571.2 2277.4) scale(0.9662 1)" font-size="41.3" text-anchor="middle" fill="#000" stroke="#000" stroke-width="0.33" stroke-linejoin="round"><tspan>E0771 TILs from CD8</tspan><tspan font-size="23.95" dy="-10.77">+</tspan><tspan dy="10.77"> adoptive transfer</tspan></text>
</svg>
</body></html>
